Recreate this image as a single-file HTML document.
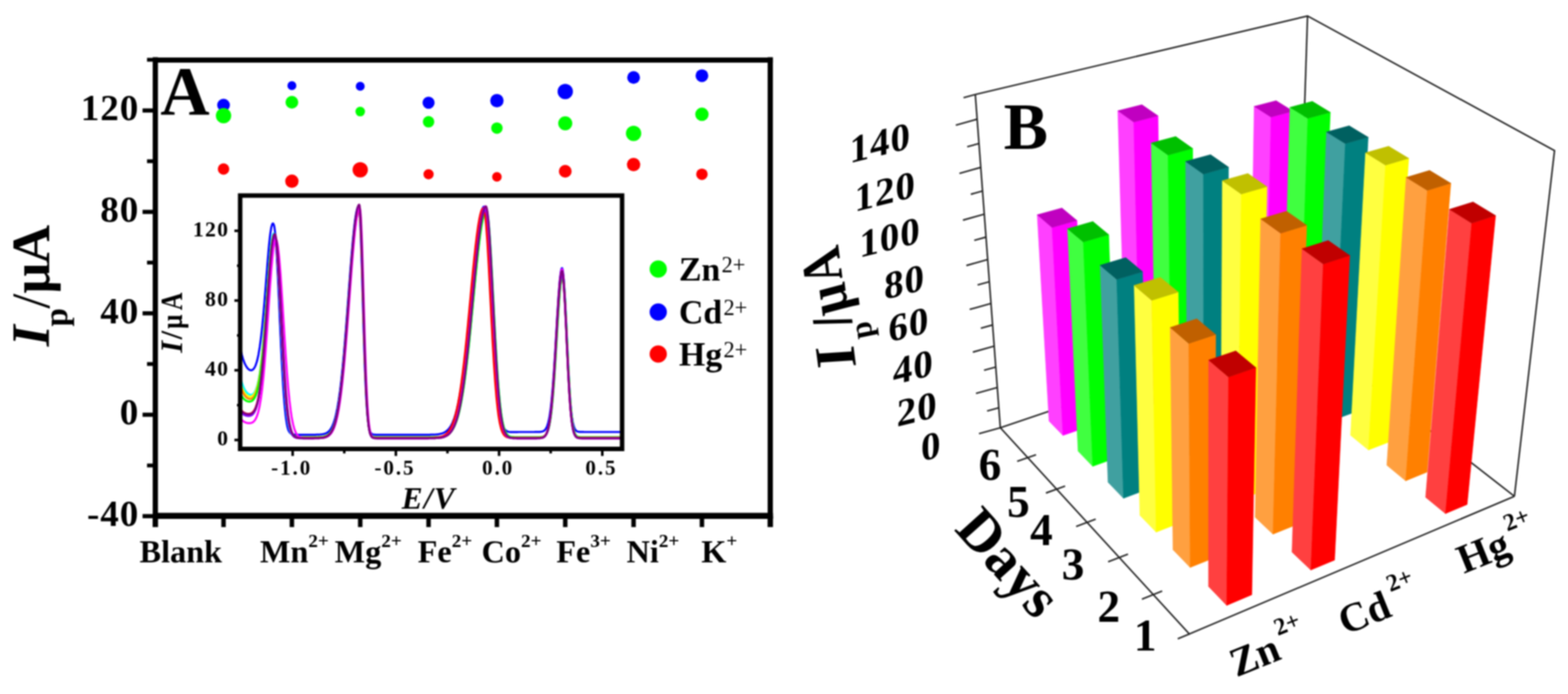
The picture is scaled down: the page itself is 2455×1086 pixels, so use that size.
<!DOCTYPE html>
<html><head><meta charset="utf-8"><style>html,body{margin:0;padding:0;background:#fff;overflow:hidden}svg{display:block}#w{filter:blur(1px)}</style></head><body><div id="w">
<svg width="2455" height="1086" viewBox="0 0 2455 1086">
<rect width="2455" height="1086" fill="#fff"/>
<path d="M239.2,94 H1210.2 M243.2,89.6 V812.3 M1206,89.6 V812.3 M239.2,807.3 H1210.2" fill="none" stroke="#000" stroke-width="8.2"/>
<line x1="239.2" y1="807.3" x2="1210.2" y2="807.3" stroke="#000" stroke-width="9.6"/>
<line x1="223.2" y1="807.7" x2="243.2" y2="807.7" stroke="#000" stroke-width="6.5"/>
<line x1="230.2" y1="728.4" x2="243.2" y2="728.4" stroke="#000" stroke-width="6"/>
<line x1="223.2" y1="649.0" x2="243.2" y2="649.0" stroke="#000" stroke-width="6.5"/>
<line x1="230.2" y1="569.6" x2="243.2" y2="569.6" stroke="#000" stroke-width="6"/>
<line x1="223.2" y1="490.3" x2="243.2" y2="490.3" stroke="#000" stroke-width="6.5"/>
<line x1="230.2" y1="410.9" x2="243.2" y2="410.9" stroke="#000" stroke-width="6"/>
<line x1="223.2" y1="331.6" x2="243.2" y2="331.6" stroke="#000" stroke-width="6.5"/>
<line x1="230.2" y1="252.3" x2="243.2" y2="252.3" stroke="#000" stroke-width="6"/>
<line x1="223.2" y1="172.9" x2="243.2" y2="172.9" stroke="#000" stroke-width="6.5"/>
<line x1="230.2" y1="93.5" x2="243.2" y2="93.5" stroke="#000" stroke-width="6"/>
<line x1="350" y1="807.3" x2="350" y2="824.8" stroke="#000" stroke-width="7"/>
<line x1="457" y1="807.3" x2="457" y2="824.8" stroke="#000" stroke-width="7"/>
<line x1="564" y1="807.3" x2="564" y2="824.8" stroke="#000" stroke-width="7"/>
<line x1="671" y1="807.3" x2="671" y2="824.8" stroke="#000" stroke-width="7"/>
<line x1="778" y1="807.3" x2="778" y2="824.8" stroke="#000" stroke-width="7"/>
<line x1="885" y1="807.3" x2="885" y2="824.8" stroke="#000" stroke-width="7"/>
<line x1="992" y1="807.3" x2="992" y2="824.8" stroke="#000" stroke-width="7"/>
<line x1="1099" y1="807.3" x2="1099" y2="824.8" stroke="#000" stroke-width="7"/>
<line x1="243.2" y1="807.3" x2="243.2" y2="824.8" stroke="#000" stroke-width="8.5"/>
<line x1="1206" y1="807.3" x2="1206" y2="824.8" stroke="#000" stroke-width="8.5"/>
<text x="218.1" y="188.1" text-anchor="end" font-size="58" letter-spacing="1.5" font-weight="bold" font-family="Liberation Serif, Times New Roman, serif">120</text>
<text x="218.1" y="346.8" text-anchor="end" font-size="58" letter-spacing="1.5" font-weight="bold" font-family="Liberation Serif, Times New Roman, serif">80</text>
<text x="218.1" y="505.5" text-anchor="end" font-size="58" letter-spacing="1.5" font-weight="bold" font-family="Liberation Serif, Times New Roman, serif">40</text>
<text x="218.1" y="664.2" text-anchor="end" font-size="58" letter-spacing="1.5" font-weight="bold" font-family="Liberation Serif, Times New Roman, serif">0</text>
<text x="218.1" y="822.9" text-anchor="end" font-size="58" letter-spacing="1.5" font-weight="bold" font-family="Liberation Serif, Times New Roman, serif">-40</text>
<text x="251" y="179.5" font-size="107" font-weight="bold" font-family="Liberation Serif, Times New Roman, serif">A</text>
<text transform="translate(77,542) rotate(-90)" font-size="85" font-weight="bold" font-family="Liberation Serif, Times New Roman, serif"><tspan font-style="italic">I</tspan><tspan font-size="52" dx="-2" dy="28">p</tspan><tspan dx="-1" dy="-28" font-weight="normal">/</tspan><tspan>μ</tspan><tspan dx="-2">A</tspan></text>
<text x="218.5" y="879.6" font-size="50.5" font-weight="bold" font-family="Liberation Serif, Times New Roman, serif">Blank</text>
<text x="407" y="879.6" font-size="50.5" font-weight="bold" font-family="Liberation Serif, Times New Roman, serif">Mn<tspan font-size="30" dy="-24">2+</tspan></text>
<text x="524" y="879.6" font-size="50.5" font-weight="bold" font-family="Liberation Serif, Times New Roman, serif">Mg<tspan font-size="30" dy="-24">2+</tspan></text>
<text x="654" y="879.6" font-size="50.5" font-weight="bold" font-family="Liberation Serif, Times New Roman, serif">Fe<tspan font-size="30" dy="-24">2+</tspan></text>
<text x="754" y="879.6" font-size="50.5" font-weight="bold" font-family="Liberation Serif, Times New Roman, serif">Co<tspan font-size="30" dy="-24">2+</tspan></text>
<text x="871" y="879.6" font-size="50.5" font-weight="bold" font-family="Liberation Serif, Times New Roman, serif">Fe<tspan font-size="30" dy="-24">3+</tspan></text>
<text x="981" y="879.6" font-size="50.5" font-weight="bold" font-family="Liberation Serif, Times New Roman, serif">Ni<tspan font-size="30" dy="-24">2+</tspan></text>
<text x="1098" y="879.6" font-size="50.5" font-weight="bold" font-family="Liberation Serif, Times New Roman, serif">K<tspan font-size="30" dy="-24">+</tspan></text>
<circle cx="350" cy="164.5" r="10" fill="#0000ff"/>
<circle cx="350" cy="181" r="12" fill="#00ff00"/>
<circle cx="350" cy="264.5" r="9" fill="#ff0000"/>
<circle cx="457" cy="134" r="7" fill="#0000ff"/>
<circle cx="457" cy="160" r="10" fill="#00ff00"/>
<circle cx="457" cy="283.6" r="10.5" fill="#ff0000"/>
<circle cx="564" cy="135" r="7" fill="#0000ff"/>
<circle cx="564" cy="174.6" r="7.5" fill="#00ff00"/>
<circle cx="564" cy="265.7" r="12" fill="#ff0000"/>
<circle cx="671" cy="160.8" r="9.5" fill="#0000ff"/>
<circle cx="671" cy="190.6" r="9" fill="#00ff00"/>
<circle cx="671" cy="272.7" r="8" fill="#ff0000"/>
<circle cx="778" cy="157.5" r="10.5" fill="#0000ff"/>
<circle cx="778" cy="200.4" r="9" fill="#00ff00"/>
<circle cx="778" cy="276.8" r="7.5" fill="#ff0000"/>
<circle cx="885" cy="143.3" r="12" fill="#0000ff"/>
<circle cx="885" cy="193" r="11" fill="#00ff00"/>
<circle cx="885" cy="268" r="10" fill="#ff0000"/>
<circle cx="992" cy="121.2" r="10" fill="#0000ff"/>
<circle cx="992" cy="208.7" r="12" fill="#00ff00"/>
<circle cx="992" cy="257.5" r="10.5" fill="#ff0000"/>
<circle cx="1099" cy="118.4" r="10" fill="#0000ff"/>
<circle cx="1099" cy="178.8" r="10.5" fill="#00ff00"/>
<circle cx="1099" cy="272.7" r="9" fill="#ff0000"/>
<circle cx="1030.6" cy="421" r="13.5" fill="#00ff00"/>
<text x="1063" y="439" font-size="53" font-weight="bold" font-family="Liberation Serif, Times New Roman, serif">Zn<tspan font-size="35" font-weight="normal" dx="2" dy="-13">2+</tspan></text>
<circle cx="1030.6" cy="488.3" r="13.5" fill="#0000ff"/>
<text x="1063" y="506.3" font-size="53" font-weight="bold" font-family="Liberation Serif, Times New Roman, serif">Cd<tspan font-size="35" font-weight="normal" dx="2" dy="-13">2+</tspan></text>
<circle cx="1030.6" cy="554" r="13.5" fill="#ff0000"/>
<text x="1063" y="572" font-size="53" font-weight="bold" font-family="Liberation Serif, Times New Roman, serif">Hg<tspan font-size="35" font-weight="normal" dx="2" dy="-13">2+</tspan></text>
<rect x="376" y="306" width="598" height="396.5" fill="#fff" stroke="none"/>
<polyline points="377.4,549.4 378.1,552.4 378.7,555.2 379.4,557.7 380.1,560.1 380.7,562.2 381.4,564.2 382.1,566.0 382.7,567.7 383.4,569.2 384.1,570.6 384.7,571.9 385.4,573.0 386.0,574.1 386.7,575.0 387.4,575.9 388.0,576.7 388.7,577.3 389.4,577.9 390.0,578.4 390.7,578.8 391.4,579.1 392.0,579.3 392.7,579.4 393.4,579.4 394.0,579.3 394.7,579.0 395.4,578.7 396.0,578.2 396.7,577.6 397.4,576.9 398.0,575.9 398.7,574.8 399.3,573.6 400.0,572.1 400.7,570.4 401.3,568.4 402.0,566.3 402.7,563.8 403.3,561.1 404.0,558.1 404.7,554.8 405.3,551.1 406.0,547.1 406.7,542.8 407.3,538.2 408.0,533.2 408.7,527.8 409.3,522.1 410.0,516.0 410.7,509.6 411.3,502.8 412.0,495.8 412.7,488.4 413.3,480.7 414.0,472.8 414.6,464.7 415.3,456.4 416.0,448.0 416.6,439.5 417.3,430.9 418.0,422.4 418.6,413.9 419.3,405.5 420.0,397.4 420.6,389.8 421.3,382.7 422.0,376.1 422.6,370.2 423.3,365.0 424.0,360.4 424.6,356.6 425.3,353.7 426.0,351.5 426.6,350.1 427.3,349.7 427.9,350.1 428.6,351.4 429.3,353.6 429.9,357.3 430.6,362.6 431.3,369.5 431.9,377.9 432.6,387.7 433.3,398.8 433.9,410.9 434.6,424.0 435.3,437.8 435.9,452.2 436.6,467.0 437.3,482.0 437.9,497.0 438.6,511.9 439.3,526.6 439.9,540.8 440.6,554.5 441.2,567.6 441.9,580.0 442.6,591.7 443.2,602.6 443.9,612.6 444.6,621.8 445.2,630.2 445.9,637.8 446.6,644.5 447.2,650.5 447.9,655.8 448.6,660.3 449.2,664.2 449.9,667.5 450.6,670.2 451.2,672.3 451.9,673.9 452.6,675.1 453.2,676.2 453.9,677.0 454.6,677.7 455.2,678.3 455.9,678.7 456.5,679.1 457.2,679.4 457.9,679.6 458.5,679.8 459.2,679.9 459.9,680.0 460.5,680.1 461.2,680.1 461.9,680.2 462.5,680.2 463.2,680.2 463.9,680.3 464.5,680.3 465.2,680.3 465.9,680.3 466.5,680.3 467.2,680.3 467.9,680.3 468.5,680.3 469.2,680.3 469.8,680.3 470.5,680.3 471.2,680.3 471.8,680.3 472.5,680.3 473.2,680.3 473.8,680.3 474.5,680.3 475.2,680.3 475.8,680.3 476.5,680.3 477.2,680.3 477.8,680.3 478.5,680.3 479.2,680.3 479.8,680.3 480.5,680.3 481.2,680.3 481.8,680.3 482.5,680.3 483.2,680.3 483.8,680.3 484.5,680.3 485.1,680.3 485.8,680.3 486.5,680.3 487.1,680.3 487.8,680.3 488.5,680.3 489.1,680.3 489.8,680.3 490.5,680.3 491.1,680.3 491.8,680.3 492.5,680.3 493.1,680.3 493.8,680.3 494.5,680.3 495.1,680.2 495.8,680.2 496.5,680.2 497.1,680.2 497.8,680.2 498.4,680.1 499.1,680.1 499.8,680.1 500.4,680.0 501.1,680.0 501.8,679.9 502.4,679.9 503.1,679.8 503.8,679.7 504.4,679.6 505.1,679.5 505.8,679.4 506.4,679.3 507.1,679.1 507.8,678.9 508.4,678.7 509.1,678.5 509.8,678.2 510.4,678.0 511.1,677.6 511.7,677.3 512.4,676.9 513.1,676.4 513.7,675.9 514.4,675.3 515.1,674.7 515.7,674.0 516.4,673.2 517.1,672.3 517.7,671.4 518.4,670.3 519.1,669.2 519.7,667.9 520.4,666.5 521.1,665.0 521.7,663.4 522.4,661.6 523.1,659.6 523.7,657.5 524.4,655.2 525.1,652.7 525.7,650.1 526.4,647.2 527.0,644.1 527.7,640.8 528.4,637.3 529.0,633.5 529.7,629.5 530.4,625.3 531.0,620.7 531.7,616.0 532.4,610.9 533.0,605.6 533.7,600.1 534.4,594.2 535.0,588.1 535.7,581.7 536.4,575.1 537.0,568.2 537.7,561.0 538.4,553.6 539.0,546.0 539.7,538.2 540.3,530.1 541.0,521.9 541.7,513.5 542.3,505.0 543.0,496.3 543.7,487.5 544.3,478.7 545.0,469.8 545.7,460.9 546.3,451.9 547.0,443.1 547.7,434.3 548.3,425.6 549.0,417.0 549.7,408.7 550.3,400.5 551.0,392.6 551.7,384.9 552.3,377.6 553.0,370.6 553.7,364.0 554.3,357.8 555.0,352.0 555.6,346.6 556.3,341.8 557.0,337.5 557.6,333.7 558.3,330.5 559.0,327.8 559.6,325.7 560.3,324.2 561.0,323.3 561.6,323.0 562.3,325.1 563.0,331.4 563.6,341.5 564.3,355.2 565.0,371.9 565.6,391.2 566.3,412.5 567.0,435.1 567.6,458.4 568.3,481.8 568.9,504.8 569.6,527.0 570.3,547.9 570.9,567.3 571.6,585.0 572.3,600.9 572.9,614.9 573.6,627.0 574.3,637.4 574.9,646.2 575.6,653.5 576.3,659.5 576.9,664.3 577.6,668.2 578.3,671.2 578.9,673.6 579.6,675.4 580.3,676.7 580.9,677.8 581.6,678.5 582.2,679.0 582.9,679.4 583.6,679.7 584.2,679.9 584.9,680.0 585.6,680.1 586.2,680.2 586.9,680.2 587.6,680.3 588.2,680.3 588.9,680.3 589.6,680.3 590.2,680.3 590.9,680.3 591.6,680.3 592.2,680.3 592.9,680.3 593.6,680.3 594.2,680.3 594.9,680.3 595.6,680.3 596.2,680.3 596.9,680.3 597.5,680.3 598.2,680.3 598.9,680.3 599.5,680.3 600.2,680.3 600.9,680.3 601.5,680.3 602.2,680.3 602.9,680.3 603.5,680.3 604.2,680.3 604.9,680.3 605.5,680.3 606.2,680.3 606.9,680.3 607.5,680.3 608.2,680.3 608.9,680.3 609.5,680.3 610.2,680.3 610.8,680.3 611.5,680.3 612.2,680.3 612.8,680.3 613.5,680.3 614.2,680.3 614.8,680.3 615.5,680.3 616.2,680.3 616.8,680.3 617.5,680.3 618.2,680.3 618.8,680.3 619.5,680.3 620.2,680.3 620.8,680.3 621.5,680.3 622.2,680.3 622.8,680.3 623.5,680.3 624.2,680.3 624.8,680.3 625.5,680.3 626.1,680.3 626.8,680.3 627.5,680.3 628.1,680.3 628.8,680.3 629.5,680.3 630.1,680.3 630.8,680.3 631.5,680.3 632.1,680.3 632.8,680.3 633.5,680.3 634.1,680.3 634.8,680.3 635.5,680.3 636.1,680.3 636.8,680.3 637.5,680.3 638.1,680.3 638.8,680.3 639.4,680.3 640.1,680.3 640.8,680.3 641.4,680.3 642.1,680.3 642.8,680.3 643.4,680.3 644.1,680.3 644.8,680.3 645.4,680.3 646.1,680.3 646.8,680.3 647.4,680.3 648.1,680.3 648.8,680.3 649.4,680.3 650.1,680.3 650.8,680.3 651.4,680.3 652.1,680.3 652.7,680.3 653.4,680.3 654.1,680.3 654.7,680.3 655.4,680.3 656.1,680.3 656.7,680.3 657.4,680.3 658.1,680.3 658.7,680.3 659.4,680.3 660.1,680.3 660.7,680.3 661.4,680.3 662.1,680.3 662.7,680.3 663.4,680.3 664.1,680.3 664.7,680.3 665.4,680.3 666.1,680.3 666.7,680.3 667.4,680.3 668.0,680.3 668.7,680.3 669.4,680.3 670.0,680.3 670.7,680.3 671.4,680.3 672.0,680.3 672.7,680.3 673.4,680.3 674.0,680.2 674.7,680.2 675.4,680.2 676.0,680.2 676.7,680.2 677.4,680.2 678.0,680.2 678.7,680.1 679.4,680.1 680.0,680.1 680.7,680.1 681.3,680.0 682.0,680.0 682.7,679.9 683.3,679.9 684.0,679.8 684.7,679.8 685.3,679.7 686.0,679.6 686.7,679.5 687.3,679.4 688.0,679.3 688.7,679.1 689.3,679.0 690.0,678.8 690.7,678.6 691.3,678.5 692.0,678.2 692.7,678.0 693.3,677.8 694.0,677.5 694.7,677.2 695.3,676.9 696.0,676.6 696.6,676.2 697.3,675.8 698.0,675.3 698.6,674.9 699.3,674.4 700.0,673.8 700.6,673.2 701.3,672.5 702.0,671.8 702.6,671.1 703.3,670.2 704.0,669.4 704.6,668.4 705.3,667.4 706.0,666.3 706.6,665.1 707.3,663.8 708.0,662.5 708.6,661.1 709.3,659.5 709.9,657.9 710.6,656.1 711.3,654.3 711.9,652.3 712.6,650.2 713.3,648.0 713.9,645.7 714.6,643.2 715.3,640.6 715.9,637.8 716.6,634.9 717.3,631.9 717.9,628.7 718.6,625.3 719.3,621.8 719.9,618.1 720.6,614.3 721.3,610.3 721.9,606.1 722.6,601.8 723.2,597.3 723.9,592.6 724.6,587.7 725.2,582.7 725.9,577.5 726.6,572.2 727.2,566.7 727.9,561.0 728.6,555.2 729.2,549.3 729.9,543.2 730.6,536.9 731.2,530.6 731.9,524.1 732.6,517.5 733.2,510.8 733.9,504.1 734.6,497.2 735.2,490.3 735.9,483.3 736.6,476.3 737.2,469.3 737.9,462.3 738.5,455.2 739.2,448.2 739.9,441.2 740.5,434.3 741.2,427.4 741.9,420.6 742.5,413.9 743.2,407.3 743.9,400.9 744.5,394.6 745.2,388.5 745.9,382.5 746.5,376.8 747.2,371.3 747.9,366.0 748.5,360.9 749.2,356.2 749.9,351.7 750.5,347.4 751.2,343.5 751.8,339.9 752.5,336.7 753.2,333.8 753.8,331.2 754.5,328.9 755.2,327.1 755.8,325.6 756.5,324.4 757.2,323.7 757.8,323.3 758.5,323.4 759.2,324.8 759.8,327.4 760.5,331.3 761.2,336.4 761.8,342.6 762.5,349.9 763.2,358.3 763.8,367.6 764.5,377.6 765.2,388.5 765.8,399.9 766.5,411.9 767.1,424.3 767.8,437.0 768.5,449.9 769.1,462.8 769.8,475.8 770.5,488.7 771.1,501.4 771.8,513.8 772.5,526.0 773.1,537.7 773.8,549.0 774.5,559.8 775.1,570.1 775.8,579.8 776.5,589.0 777.1,597.6 777.8,605.6 778.5,613.0 779.1,619.9 779.8,626.2 780.4,632.0 781.1,637.3 781.8,642.0 782.4,646.3 783.1,650.2 783.8,653.7 784.4,656.8 785.1,659.5 785.8,661.9 786.4,664.0 787.1,665.9 787.8,667.5 788.4,668.9 789.1,670.1 789.8,671.1 790.4,672.0 791.1,672.8 791.8,673.4 792.4,673.9 793.1,674.4 793.7,674.8 794.4,675.1 795.1,675.3 795.7,675.5 796.4,675.7 797.1,675.9 797.7,676.0 798.4,676.0 799.1,676.1 799.7,676.2 800.4,676.2 801.1,676.2 801.7,676.2 802.4,676.2 803.1,676.2 803.7,676.2 804.4,676.2 805.1,676.2 805.7,676.2 806.4,676.2 807.1,676.2 807.7,676.1 808.4,676.1 809.0,676.1 809.7,676.1 810.4,676.1 811.0,676.0 811.7,676.0 812.4,676.0 813.0,676.0 813.7,676.0 814.4,676.0 815.0,676.0 815.7,676.0 816.4,676.0 817.0,676.0 817.7,676.0 818.4,676.0 819.0,676.0 819.7,676.0 820.4,676.0 821.0,676.0 821.7,676.0 822.3,676.0 823.0,676.0 823.7,676.0 824.3,676.0 825.0,676.0 825.7,676.0 826.3,676.0 827.0,676.0 827.7,676.0 828.3,676.0 829.0,676.0 829.7,676.0 830.3,676.0 831.0,676.0 831.7,676.0 832.3,676.0 833.0,676.0 833.7,676.0 834.3,676.0 835.0,676.0 835.7,676.0 836.3,676.0 837.0,676.0 837.6,675.9 838.3,675.9 839.0,675.9 839.6,675.9 840.3,675.9 841.0,675.9 841.6,675.9 842.3,675.9 843.0,675.9 843.6,675.9 844.3,675.8 845.0,675.8 845.6,675.8 846.3,675.7 847.0,675.6 847.6,675.5 848.3,675.4 849.0,675.2 849.6,675.0 850.3,674.8 850.9,674.5 851.6,674.1 852.3,673.6 852.9,673.0 853.6,672.3 854.3,671.4 854.9,670.4 855.6,669.1 856.3,667.7 856.9,665.9 857.6,663.9 858.3,661.5 858.9,658.8 859.6,655.7 860.3,652.1 860.9,648.0 861.6,643.4 862.3,638.3 862.9,632.6 863.6,626.2 864.2,619.3 864.9,611.8 865.6,603.6 866.2,594.9 866.9,585.5 867.6,575.7 868.2,565.4 868.9,554.6 869.6,543.6 870.2,532.3 870.9,520.9 871.6,509.5 872.2,498.2 872.9,487.2 873.6,476.5 874.2,466.4 874.9,457.0 875.6,448.4 876.2,440.7 876.9,434.1 877.6,428.6 878.2,424.4 878.9,421.4 879.5,419.9 880.2,419.7 880.9,421.6 881.5,425.7 882.2,431.9 882.9,440.0 883.5,449.8 884.2,461.1 884.9,473.6 885.5,487.0 886.2,501.1 886.9,515.6 887.5,530.1 888.2,544.5 888.9,558.4 889.5,571.9 890.2,584.5 890.9,596.4 891.5,607.3 892.2,617.2 892.8,626.2 893.5,634.1 894.2,641.1 894.8,647.1 895.5,652.4 896.2,656.8 896.8,660.6 897.5,663.7 898.2,666.2 898.8,668.3 899.5,670.0 900.2,671.4 900.8,672.5 901.5,673.3 902.2,674.0 902.8,674.5 903.5,674.9 904.2,675.2 904.8,675.4 905.5,675.5 906.2,675.7 906.8,675.7 907.5,675.8 908.1,675.9 908.8,675.9 909.5,675.9 910.1,675.9 910.8,675.9 911.5,675.9 912.1,675.9 912.8,675.9 913.5,675.9 914.1,676.0 914.8,676.0 915.5,676.0 916.1,676.0 916.8,676.0 917.5,676.0 918.1,676.0 918.8,676.0 919.5,676.0 920.1,676.0 920.8,676.0 921.4,676.0 922.1,676.0 922.8,676.0 923.4,676.0 924.1,676.0 924.8,676.0 925.4,676.0 926.1,676.0 926.8,676.0 927.4,676.0 928.1,676.0 928.8,676.0 929.4,676.0 930.1,676.0 930.8,676.0 931.4,676.0 932.1,676.0 932.8,676.0 933.4,676.0 934.1,676.0 934.7,676.0 935.4,676.0 936.1,676.0 936.7,676.0 937.4,676.0 938.1,676.0 938.7,676.0 939.4,676.0 940.1,676.0 940.7,676.0 941.4,676.0 942.1,676.0 942.7,676.0 943.4,676.0 944.1,676.0 944.7,676.0 945.4,676.0 946.1,676.0 946.7,676.0 947.4,676.0 948.1,676.0 948.7,676.0 949.4,676.0 950.0,676.0 950.7,676.0 951.4,676.0 952.0,676.0 952.7,676.0 953.4,676.0 954.0,676.0 954.7,676.0 955.4,676.0 956.0,676.0 956.7,676.0 957.4,676.0 958.0,676.0 958.7,676.0 959.4,676.0 960.0,676.0 960.7,676.0 961.4,676.0 962.0,676.0 962.7,676.0 963.3,676.0 964.0,676.0 964.7,676.0 965.3,676.0 966.0,676.0 966.7,676.0 967.3,676.0 968.0,676.0 968.7,676.0 969.3,676.0 970.0,676.0 970.7,676.0 971.3,676.0 972.0,676.0 972.7,676.0 973.3,676.0 974.0,676.0 974.7,676.0 975.3,676.0" fill="none" stroke="#0000ff" stroke-width="3.2" stroke-linejoin="round"/>
<polyline points="377.4,594.4 378.1,596.8 378.7,598.9 379.4,600.9 380.1,602.8 380.7,604.5 381.4,606.0 382.1,607.5 382.7,608.8 383.4,610.0 384.1,611.1 384.7,612.1 385.4,613.0 386.0,613.8 386.7,614.5 387.4,615.2 388.0,615.8 388.7,616.3 389.4,616.8 390.0,617.1 390.7,617.4 391.4,617.6 392.0,617.8 392.7,617.8 393.4,617.8 394.0,617.7 394.7,617.5 395.4,617.1 396.0,616.7 396.7,616.1 397.4,615.4 398.0,614.6 398.7,613.6 399.3,612.4 400.0,611.0 400.7,609.4 401.3,607.6 402.0,605.6 402.7,603.3 403.3,600.8 404.0,598.0 404.7,594.8 405.3,591.4 406.0,587.6 406.7,583.5 407.3,579.0 408.0,574.1 408.7,568.9 409.3,563.3 410.0,557.3 410.7,550.9 411.3,544.2 412.0,537.1 412.7,529.7 413.3,521.9 414.0,513.8 414.6,505.4 415.3,496.8 416.0,488.0 416.6,479.0 417.3,469.9 418.0,460.7 418.6,451.5 419.3,442.4 420.0,433.4 420.6,424.7 421.3,416.4 422.0,408.5 422.6,401.1 423.3,394.3 424.0,388.1 424.6,382.5 425.3,377.6 426.0,373.5 426.6,370.1 427.3,367.6 427.9,366.0 428.6,365.2 429.3,365.3 429.9,366.3 430.6,368.4 431.3,371.8 431.9,376.7 432.6,382.8 433.3,390.3 433.9,398.9 434.6,408.6 435.3,419.2 435.9,430.6 436.6,442.7 437.3,455.4 437.9,468.5 438.6,481.8 439.3,495.3 439.9,508.8 440.6,522.2 441.2,535.3 441.9,548.1 442.6,560.4 443.2,572.3 443.9,583.6 444.6,594.3 445.2,604.3 445.9,613.6 446.6,622.2 447.2,630.1 447.9,637.3 448.6,643.7 449.2,649.5 449.9,654.6 450.6,659.1 451.2,662.9 451.9,666.2 452.6,669.0 453.2,671.4 453.9,673.6 454.6,675.4 455.2,676.9 455.9,678.2 456.5,679.3 457.2,680.3 457.9,681.0 458.5,681.7 459.2,682.2 459.9,682.7 460.5,683.0 461.2,683.3 461.9,683.5 462.5,683.7 463.2,683.9 463.9,684.0 464.5,684.1 465.2,684.2 465.9,684.2 466.5,684.3 467.2,684.3 467.9,684.3 468.5,684.3 469.2,684.4 469.8,684.4 470.5,684.4 471.2,684.4 471.8,684.4 472.5,684.4 473.2,684.4 473.8,684.4 474.5,684.4 475.2,684.4 475.8,684.4 476.5,684.4 477.2,684.4 477.8,684.4 478.5,684.4 479.2,684.4 479.8,684.4 480.5,684.4 481.2,684.4 481.8,684.4 482.5,684.4 483.2,684.4 483.8,684.4 484.5,684.4 485.1,684.4 485.8,684.4 486.5,684.4 487.1,684.4 487.8,684.4 488.5,684.4 489.1,684.4 489.8,684.4 490.5,684.4 491.1,684.4 491.8,684.4 492.5,684.4 493.1,684.4 493.8,684.4 494.5,684.4 495.1,684.3 495.8,684.3 496.5,684.3 497.1,684.3 497.8,684.3 498.4,684.3 499.1,684.2 499.8,684.2 500.4,684.2 501.1,684.1 501.8,684.1 502.4,684.0 503.1,684.0 503.8,683.9 504.4,683.8 505.1,683.7 505.8,683.6 506.4,683.5 507.1,683.3 507.8,683.2 508.4,683.0 509.1,682.8 509.8,682.5 510.4,682.3 511.1,682.0 511.7,681.6 512.4,681.2 513.1,680.8 513.7,680.3 514.4,679.8 515.1,679.2 515.7,678.6 516.4,677.8 517.1,677.0 517.7,676.1 518.4,675.2 519.1,674.1 519.7,672.9 520.4,671.6 521.1,670.2 521.7,668.6 522.4,666.9 523.1,665.1 523.7,663.1 524.4,660.9 525.1,658.5 525.7,656.0 526.4,653.3 527.0,650.3 527.7,647.2 528.4,643.8 529.0,640.2 529.7,636.4 530.4,632.3 531.0,627.9 531.7,623.3 532.4,618.5 533.0,613.3 533.7,607.9 534.4,602.3 535.0,596.3 535.7,590.1 536.4,583.6 537.0,576.9 537.7,569.9 538.4,562.7 539.0,555.2 539.7,547.5 540.3,539.5 541.0,531.4 541.7,523.1 542.3,514.6 543.0,506.0 543.7,497.3 544.3,488.5 545.0,479.6 545.7,470.6 546.3,461.7 547.0,452.7 547.7,443.9 548.3,435.1 549.0,426.4 549.7,417.8 550.3,409.5 551.0,401.3 551.7,393.5 552.3,385.9 553.0,378.6 553.7,371.7 554.3,365.1 555.0,359.0 555.6,353.3 556.3,348.1 557.0,343.4 557.6,339.2 558.3,335.5 559.0,332.4 559.6,329.9 560.3,328.0 561.0,326.6 561.6,325.9 562.3,325.9 563.0,329.2 563.6,336.5 564.3,347.7 565.0,362.3 565.6,379.9 566.3,399.9 567.0,421.6 567.6,444.5 568.3,468.0 568.9,491.5 569.6,514.4 570.3,536.3 570.9,557.0 571.6,576.0 572.3,593.2 572.9,608.7 573.6,622.2 574.3,633.9 574.9,643.9 575.6,652.3 576.3,659.2 576.9,664.9 577.6,669.5 578.3,673.1 578.9,676.0 579.6,678.2 580.3,679.9 580.9,681.1 581.6,682.1 582.2,682.8 582.9,683.3 583.6,683.6 584.2,683.9 584.9,684.0 585.6,684.2 586.2,684.2 586.9,684.3 587.6,684.3 588.2,684.4 588.9,684.4 589.6,684.4 590.2,684.4 590.9,684.4 591.6,684.4 592.2,684.4 592.9,684.4 593.6,684.4 594.2,684.4 594.9,684.4 595.6,684.4 596.2,684.4 596.9,684.4 597.5,684.4 598.2,684.4 598.9,684.4 599.5,684.4 600.2,684.4 600.9,684.4 601.5,684.4 602.2,684.4 602.9,684.4 603.5,684.4 604.2,684.4 604.9,684.4 605.5,684.4 606.2,684.4 606.9,684.4 607.5,684.4 608.2,684.4 608.9,684.4 609.5,684.4 610.2,684.4 610.8,684.4 611.5,684.4 612.2,684.4 612.8,684.4 613.5,684.4 614.2,684.4 614.8,684.4 615.5,684.4 616.2,684.4 616.8,684.4 617.5,684.4 618.2,684.4 618.8,684.4 619.5,684.4 620.2,684.4 620.8,684.4 621.5,684.4 622.2,684.4 622.8,684.4 623.5,684.4 624.2,684.4 624.8,684.4 625.5,684.4 626.1,684.4 626.8,684.4 627.5,684.4 628.1,684.4 628.8,684.4 629.5,684.4 630.1,684.4 630.8,684.4 631.5,684.4 632.1,684.4 632.8,684.4 633.5,684.4 634.1,684.4 634.8,684.4 635.5,684.4 636.1,684.4 636.8,684.4 637.5,684.4 638.1,684.4 638.8,684.4 639.4,684.4 640.1,684.4 640.8,684.4 641.4,684.4 642.1,684.4 642.8,684.4 643.4,684.4 644.1,684.4 644.8,684.4 645.4,684.4 646.1,684.4 646.8,684.4 647.4,684.4 648.1,684.4 648.8,684.4 649.4,684.4 650.1,684.4 650.8,684.4 651.4,684.4 652.1,684.4 652.7,684.4 653.4,684.4 654.1,684.4 654.7,684.4 655.4,684.4 656.1,684.4 656.7,684.4 657.4,684.4 658.1,684.4 658.7,684.4 659.4,684.4 660.1,684.4 660.7,684.4 661.4,684.4 662.1,684.4 662.7,684.4 663.4,684.4 664.1,684.4 664.7,684.4 665.4,684.4 666.1,684.4 666.7,684.4 667.4,684.4 668.0,684.4 668.7,684.4 669.4,684.4 670.0,684.4 670.7,684.4 671.4,684.4 672.0,684.4 672.7,684.4 673.4,684.4 674.0,684.4 674.7,684.4 675.4,684.4 676.0,684.4 676.7,684.3 677.4,684.3 678.0,684.3 678.7,684.3 679.4,684.3 680.0,684.3 680.7,684.3 681.3,684.3 682.0,684.2 682.7,684.2 683.3,684.2 684.0,684.1 684.7,684.1 685.3,684.1 686.0,684.0 686.7,684.0 687.3,683.9 688.0,683.9 688.7,683.8 689.3,683.7 690.0,683.6 690.7,683.6 691.3,683.4 692.0,683.3 692.7,683.2 693.3,683.1 694.0,682.9 694.7,682.7 695.3,682.6 696.0,682.4 696.6,682.1 697.3,681.9 698.0,681.6 698.6,681.3 699.3,681.0 700.0,680.6 700.6,680.2 701.3,679.8 702.0,679.4 702.6,678.9 703.3,678.3 704.0,677.7 704.6,677.1 705.3,676.4 706.0,675.6 706.6,674.8 707.3,673.9 708.0,673.0 708.6,672.0 709.3,670.9 709.9,669.7 710.6,668.5 711.3,667.1 711.9,665.7 712.6,664.2 713.3,662.5 713.9,660.8 714.6,658.9 715.3,657.0 715.9,654.9 716.6,652.6 717.3,650.3 717.9,647.8 718.6,645.2 719.3,642.4 719.9,639.5 720.6,636.5 721.3,633.3 721.9,629.9 722.6,626.4 723.2,622.7 723.9,618.8 724.6,614.8 725.2,610.6 725.9,606.2 726.6,601.7 727.2,597.0 727.9,592.1 728.6,587.1 729.2,581.9 729.9,576.5 730.6,571.0 731.2,565.3 731.9,559.5 732.6,553.5 733.2,547.4 733.9,541.2 734.6,534.8 735.2,528.3 735.9,521.7 736.6,515.0 737.2,508.2 737.9,501.3 738.5,494.4 739.2,487.4 739.9,480.4 740.5,473.4 741.2,466.3 741.9,459.3 742.5,452.3 743.2,445.3 743.9,438.3 744.5,431.5 745.2,424.7 745.9,418.0 746.5,411.4 747.2,405.0 747.9,398.7 748.5,392.6 749.2,386.7 749.9,381.0 750.5,375.5 751.2,370.3 751.8,365.3 752.5,360.5 753.2,356.1 753.8,351.9 754.5,348.1 755.2,344.5 755.8,341.3 756.5,338.5 757.2,335.9 757.8,333.8 758.5,332.0 759.2,330.5 759.8,329.5 760.5,328.8 761.2,328.5 761.8,328.8 762.5,330.3 763.2,333.2 763.8,337.3 764.5,342.6 765.2,349.0 765.8,356.5 766.5,365.1 767.1,374.5 767.8,384.8 768.5,395.8 769.1,407.4 769.8,419.5 770.5,432.0 771.1,444.8 771.8,457.7 772.5,470.8 773.1,483.8 773.8,496.8 774.5,509.5 775.1,522.0 775.8,534.1 776.5,545.9 777.1,557.1 777.8,567.9 778.5,578.2 779.1,587.9 779.8,597.1 780.4,605.6 781.1,613.6 781.8,621.0 782.4,627.9 783.1,634.2 783.8,639.9 784.4,645.2 785.1,649.9 785.8,654.2 786.4,658.0 787.1,661.5 787.8,664.6 788.4,667.3 789.1,669.7 789.8,671.8 790.4,673.6 791.1,675.2 791.8,676.6 792.4,677.8 793.1,678.9 793.7,679.8 794.4,680.5 795.1,681.2 795.7,681.7 796.4,682.2 797.1,682.6 797.7,682.9 798.4,683.2 799.1,683.4 799.7,683.6 800.4,683.8 801.1,683.9 801.7,684.0 802.4,684.1 803.1,684.1 803.7,684.2 804.4,684.2 805.1,684.3 805.7,684.3 806.4,684.3 807.1,684.3 807.7,684.4 808.4,684.4 809.0,684.4 809.7,684.4 810.4,684.4 811.0,684.4 811.7,684.4 812.4,684.4 813.0,684.4 813.7,684.4 814.4,684.4 815.0,684.4 815.7,684.4 816.4,684.4 817.0,684.4 817.7,684.4 818.4,684.4 819.0,684.4 819.7,684.4 820.4,684.4 821.0,684.4 821.7,684.4 822.3,684.4 823.0,684.4 823.7,684.4 824.3,684.4 825.0,684.4 825.7,684.4 826.3,684.4 827.0,684.4 827.7,684.4 828.3,684.4 829.0,684.4 829.7,684.4 830.3,684.4 831.0,684.4 831.7,684.4 832.3,684.4 833.0,684.4 833.7,684.4 834.3,684.4 835.0,684.4 835.7,684.4 836.3,684.4 837.0,684.4 837.6,684.4 838.3,684.4 839.0,684.4 839.6,684.4 840.3,684.4 841.0,684.4 841.6,684.4 842.3,684.4 843.0,684.4 843.6,684.3 844.3,684.3 845.0,684.3 845.6,684.3 846.3,684.2 847.0,684.2 847.6,684.1 848.3,684.0 849.0,683.9 849.6,683.7 850.3,683.5 850.9,683.2 851.6,682.9 852.3,682.5 852.9,682.0 853.6,681.4 854.3,680.7 854.9,679.9 855.6,678.8 856.3,677.6 856.9,676.1 857.6,674.4 858.3,672.4 858.9,670.0 859.6,667.3 860.3,664.1 860.9,660.5 861.6,656.5 862.3,651.9 862.9,646.8 863.6,641.1 864.2,634.8 864.9,627.9 865.6,620.4 866.2,612.2 866.9,603.5 867.6,594.2 868.2,584.4 868.9,574.1 869.6,563.4 870.2,552.4 870.9,541.2 871.6,529.9 872.2,518.5 872.9,507.3 873.6,496.3 874.2,485.8 874.9,475.7 875.6,466.4 876.2,457.8 876.9,450.2 877.6,443.7 878.2,438.2 878.9,434.1 879.5,431.2 880.2,429.7 880.9,429.6 881.5,431.5 882.2,435.6 882.9,441.8 883.5,449.9 884.2,459.7 884.9,471.0 885.5,483.5 886.2,496.9 886.9,510.9 887.5,525.3 888.2,539.7 888.9,554.0 889.5,567.9 890.2,581.2 890.9,593.8 891.5,605.6 892.2,616.4 892.8,626.3 893.5,635.1 894.2,643.0 894.8,649.9 895.5,655.9 896.2,661.1 896.8,665.5 897.5,669.2 898.2,672.3 898.8,674.8 899.5,676.9 900.2,678.6 900.8,679.9 901.5,681.0 902.2,681.8 902.8,682.5 903.5,683.0 904.2,683.3 904.8,683.6 905.5,683.8 906.2,684.0 906.8,684.1 907.5,684.2 908.1,684.3 908.8,684.3 909.5,684.3 910.1,684.4 910.8,684.4 911.5,684.4 912.1,684.4 912.8,684.4 913.5,684.4 914.1,684.4 914.8,684.4 915.5,684.4 916.1,684.4 916.8,684.4 917.5,684.4 918.1,684.4 918.8,684.4 919.5,684.4 920.1,684.4 920.8,684.4 921.4,684.4 922.1,684.4 922.8,684.4 923.4,684.4 924.1,684.4 924.8,684.4 925.4,684.4 926.1,684.4 926.8,684.4 927.4,684.4 928.1,684.4 928.8,684.4 929.4,684.4 930.1,684.4 930.8,684.4 931.4,684.4 932.1,684.4 932.8,684.4 933.4,684.4 934.1,684.4 934.7,684.4 935.4,684.4 936.1,684.4 936.7,684.4 937.4,684.4 938.1,684.4 938.7,684.4 939.4,684.4 940.1,684.4 940.7,684.4 941.4,684.4 942.1,684.4 942.7,684.4 943.4,684.4 944.1,684.4 944.7,684.4 945.4,684.4 946.1,684.4 946.7,684.4 947.4,684.4 948.1,684.4 948.7,684.4 949.4,684.4 950.0,684.4 950.7,684.4 951.4,684.4 952.0,684.4 952.7,684.4 953.4,684.4 954.0,684.4 954.7,684.4 955.4,684.4 956.0,684.4 956.7,684.4 957.4,684.4 958.0,684.4 958.7,684.4 959.4,684.4 960.0,684.4 960.7,684.4 961.4,684.4 962.0,684.4 962.7,684.4 963.3,684.4 964.0,684.4 964.7,684.4 965.3,684.4 966.0,684.4 966.7,684.4 967.3,684.4 968.0,684.4 968.7,684.4 969.3,684.4 970.0,684.4 970.7,684.4 971.3,684.4 972.0,684.4 972.7,684.4 973.3,684.4 974.0,684.4 974.7,684.4 975.3,684.4" fill="none" stroke="#00ffff" stroke-width="3.2" stroke-linejoin="round"/>
<polyline points="377.4,602.6 378.1,604.7 378.7,606.6 379.4,608.3 380.1,609.9 380.7,611.3 381.4,612.6 382.1,613.7 382.7,614.7 383.4,615.6 384.1,616.5 384.7,617.2 385.4,617.8 386.0,618.4 386.7,618.9 387.4,619.3 388.0,619.7 388.7,620.0 389.4,620.2 390.0,620.4 390.7,620.5 391.4,620.6 392.0,620.6 392.7,620.5 393.4,620.3 394.0,620.1 394.7,619.8 395.4,619.3 396.0,618.8 396.7,618.2 397.4,617.5 398.0,616.6 398.7,615.6 399.3,614.4 400.0,613.0 400.7,611.5 401.3,609.7 402.0,607.7 402.7,605.5 403.3,603.1 404.0,600.3 404.7,597.3 405.3,594.0 406.0,590.4 406.7,586.4 407.3,582.1 408.0,577.4 408.7,572.3 409.3,566.9 410.0,561.1 410.7,555.0 411.3,548.4 412.0,541.5 412.7,534.3 413.3,526.7 414.0,518.8 414.6,510.6 415.3,502.1 416.0,493.4 416.6,484.6 417.3,475.6 418.0,466.5 418.6,457.3 419.3,448.2 420.0,439.2 420.6,430.5 421.3,422.1 422.0,414.1 422.6,406.6 423.3,399.6 424.0,393.2 424.6,387.4 425.3,382.2 426.0,377.8 426.6,374.2 427.3,371.3 427.9,369.3 428.6,368.1 429.3,367.8 429.9,368.4 430.6,369.9 431.3,372.7 431.9,376.7 432.6,382.0 433.3,388.5 433.9,396.1 434.6,404.8 435.3,414.4 435.9,424.9 436.6,436.1 437.3,447.9 437.9,460.2 438.6,472.8 439.3,485.7 439.9,498.7 440.6,511.7 441.2,524.5 441.9,537.1 442.6,549.4 443.2,561.3 443.9,572.8 444.6,583.7 445.2,594.0 445.9,603.7 446.6,612.8 447.2,621.1 447.9,628.8 448.6,635.9 449.2,642.2 449.9,647.9 450.6,652.9 451.2,657.3 451.9,661.1 452.6,664.5 453.2,667.4 453.9,670.0 454.6,672.2 455.2,674.1 455.9,675.8 456.5,677.3 457.2,678.5 457.9,679.5 458.5,680.4 459.2,681.1 459.9,681.7 460.5,682.2 461.2,682.7 461.9,683.0 462.5,683.3 463.2,683.5 463.9,683.7 464.5,683.9 465.2,684.0 465.9,684.1 466.5,684.1 467.2,684.2 467.9,684.3 468.5,684.3 469.2,684.3 469.8,684.3 470.5,684.4 471.2,684.4 471.8,684.4 472.5,684.4 473.2,684.4 473.8,684.4 474.5,684.4 475.2,684.4 475.8,684.4 476.5,684.4 477.2,684.4 477.8,684.4 478.5,684.4 479.2,684.4 479.8,684.4 480.5,684.4 481.2,684.4 481.8,684.4 482.5,684.4 483.2,684.4 483.8,684.4 484.5,684.4 485.1,684.4 485.8,684.4 486.5,684.4 487.1,684.4 487.8,684.4 488.5,684.4 489.1,684.4 489.8,684.4 490.5,684.4 491.1,684.4 491.8,684.4 492.5,684.4 493.1,684.4 493.8,684.4 494.5,684.4 495.1,684.3 495.8,684.3 496.5,684.3 497.1,684.3 497.8,684.3 498.4,684.3 499.1,684.2 499.8,684.2 500.4,684.2 501.1,684.1 501.8,684.1 502.4,684.0 503.1,684.0 503.8,683.9 504.4,683.8 505.1,683.7 505.8,683.6 506.4,683.5 507.1,683.4 507.8,683.2 508.4,683.0 509.1,682.8 509.8,682.6 510.4,682.3 511.1,682.0 511.7,681.7 512.4,681.4 513.1,680.9 513.7,680.5 514.4,680.0 515.1,679.4 515.7,678.8 516.4,678.1 517.1,677.3 517.7,676.4 518.4,675.5 519.1,674.4 519.7,673.3 520.4,672.0 521.1,670.6 521.7,669.1 522.4,667.5 523.1,665.7 523.7,663.7 524.4,661.6 525.1,659.3 525.7,656.8 526.4,654.2 527.0,651.3 527.7,648.2 528.4,645.0 529.0,641.4 529.7,637.7 530.4,633.7 531.0,629.4 531.7,624.9 532.4,620.2 533.0,615.1 533.7,609.8 534.4,604.3 535.0,598.5 535.7,592.4 536.4,586.0 537.0,579.4 537.7,572.5 538.4,565.4 539.0,558.0 539.7,550.4 540.3,542.6 541.0,534.6 541.7,526.4 542.3,518.0 543.0,509.5 543.7,500.8 544.3,492.1 545.0,483.3 545.7,474.4 546.3,465.5 547.0,456.7 547.7,447.8 548.3,439.1 549.0,430.4 549.7,421.9 550.3,413.6 551.0,405.4 551.7,397.5 552.3,389.9 553.0,382.6 553.7,375.7 554.3,369.1 555.0,362.9 555.6,357.2 556.3,351.9 557.0,347.1 557.6,342.8 558.3,339.0 559.0,335.8 559.6,333.2 560.3,331.1 561.0,329.6 561.6,328.7 562.3,328.5 563.0,330.7 563.6,337.0 564.3,347.2 565.0,360.9 565.6,377.7 566.3,397.0 567.0,418.2 567.6,440.8 568.3,464.0 568.9,487.3 569.6,510.2 570.3,532.3 570.9,553.1 571.6,572.4 572.3,589.9 572.9,605.7 573.6,619.6 574.3,631.6 574.9,641.9 575.6,650.6 576.3,657.9 576.9,663.8 577.6,668.6 578.3,672.4 578.9,675.4 579.6,677.7 580.3,679.5 580.9,680.9 581.6,681.9 582.2,682.6 582.9,683.2 583.6,683.5 584.2,683.8 584.9,684.0 585.6,684.1 586.2,684.2 586.9,684.3 587.6,684.3 588.2,684.4 588.9,684.4 589.6,684.4 590.2,684.4 590.9,684.4 591.6,684.4 592.2,684.4 592.9,684.4 593.6,684.4 594.2,684.4 594.9,684.4 595.6,684.4 596.2,684.4 596.9,684.4 597.5,684.4 598.2,684.4 598.9,684.4 599.5,684.4 600.2,684.4 600.9,684.4 601.5,684.4 602.2,684.4 602.9,684.4 603.5,684.4 604.2,684.4 604.9,684.4 605.5,684.4 606.2,684.4 606.9,684.4 607.5,684.4 608.2,684.4 608.9,684.4 609.5,684.4 610.2,684.4 610.8,684.4 611.5,684.4 612.2,684.4 612.8,684.4 613.5,684.4 614.2,684.4 614.8,684.4 615.5,684.4 616.2,684.4 616.8,684.4 617.5,684.4 618.2,684.4 618.8,684.4 619.5,684.4 620.2,684.4 620.8,684.4 621.5,684.4 622.2,684.4 622.8,684.4 623.5,684.4 624.2,684.4 624.8,684.4 625.5,684.4 626.1,684.4 626.8,684.4 627.5,684.4 628.1,684.4 628.8,684.4 629.5,684.4 630.1,684.4 630.8,684.4 631.5,684.4 632.1,684.4 632.8,684.4 633.5,684.4 634.1,684.4 634.8,684.4 635.5,684.4 636.1,684.4 636.8,684.4 637.5,684.4 638.1,684.4 638.8,684.4 639.4,684.4 640.1,684.4 640.8,684.4 641.4,684.4 642.1,684.4 642.8,684.4 643.4,684.4 644.1,684.4 644.8,684.4 645.4,684.4 646.1,684.4 646.8,684.4 647.4,684.4 648.1,684.4 648.8,684.4 649.4,684.4 650.1,684.4 650.8,684.4 651.4,684.4 652.1,684.4 652.7,684.4 653.4,684.4 654.1,684.4 654.7,684.4 655.4,684.4 656.1,684.4 656.7,684.4 657.4,684.4 658.1,684.4 658.7,684.4 659.4,684.4 660.1,684.4 660.7,684.4 661.4,684.4 662.1,684.4 662.7,684.4 663.4,684.4 664.1,684.4 664.7,684.4 665.4,684.4 666.1,684.4 666.7,684.4 667.4,684.4 668.0,684.4 668.7,684.4 669.4,684.4 670.0,684.4 670.7,684.4 671.4,684.4 672.0,684.4 672.7,684.4 673.4,684.4 674.0,684.4 674.7,684.4 675.4,684.3 676.0,684.3 676.7,684.3 677.4,684.3 678.0,684.3 678.7,684.3 679.4,684.3 680.0,684.3 680.7,684.2 681.3,684.2 682.0,684.2 682.7,684.2 683.3,684.1 684.0,684.1 684.7,684.0 685.3,684.0 686.0,683.9 686.7,683.9 687.3,683.8 688.0,683.7 688.7,683.7 689.3,683.6 690.0,683.5 690.7,683.4 691.3,683.2 692.0,683.1 692.7,682.9 693.3,682.8 694.0,682.6 694.7,682.4 695.3,682.2 696.0,681.9 696.6,681.6 697.3,681.4 698.0,681.0 698.6,680.7 699.3,680.3 700.0,679.9 700.6,679.4 701.3,678.9 702.0,678.4 702.6,677.8 703.3,677.2 704.0,676.5 704.6,675.7 705.3,674.9 706.0,674.1 706.6,673.1 707.3,672.1 708.0,671.1 708.6,669.9 709.3,668.7 709.9,667.3 710.6,665.9 711.3,664.4 711.9,662.8 712.6,661.1 713.3,659.2 713.9,657.3 714.6,655.2 715.3,653.0 715.9,650.7 716.6,648.2 717.3,645.7 717.9,642.9 718.6,640.0 719.3,637.0 719.9,633.8 720.6,630.5 721.3,627.0 721.9,623.3 722.6,619.5 723.2,615.5 723.9,611.4 724.6,607.1 725.2,602.6 725.9,597.9 726.6,593.1 727.2,588.1 727.9,583.0 728.6,577.7 729.2,572.2 729.9,566.6 730.6,560.8 731.2,554.9 731.9,548.8 732.6,542.6 733.2,536.3 733.9,529.8 734.6,523.3 735.2,516.7 735.9,509.9 736.6,503.1 737.2,496.3 737.9,489.3 738.5,482.4 739.2,475.4 739.9,468.4 740.5,461.4 741.2,454.4 741.9,447.5 742.5,440.6 743.2,433.8 743.9,427.0 744.5,420.4 745.2,413.9 745.9,407.5 746.5,401.3 747.2,395.2 747.9,389.3 748.5,383.7 749.2,378.2 749.9,373.0 750.5,368.0 751.2,363.3 751.8,358.8 752.5,354.7 753.2,350.9 753.8,347.3 754.5,344.1 755.2,341.3 755.8,338.7 756.5,336.6 757.2,334.8 757.8,333.3 758.5,332.2 759.2,331.5 759.8,331.2 760.5,331.5 761.2,332.9 761.8,335.7 762.5,339.7 763.2,344.9 763.8,351.2 764.5,358.6 765.2,367.0 765.8,376.3 766.5,386.5 767.1,397.3 767.8,408.8 768.5,420.8 769.1,433.2 769.8,445.9 770.5,458.7 771.1,471.7 771.8,484.6 772.5,497.5 773.1,510.1 773.8,522.5 774.5,534.6 775.1,546.3 775.8,557.5 776.5,568.2 777.1,578.5 777.8,588.1 778.5,597.2 779.1,605.8 779.8,613.7 780.4,621.1 781.1,628.0 781.8,634.2 782.4,640.0 783.1,645.2 783.8,649.9 784.4,654.2 785.1,658.0 785.8,661.5 786.4,664.5 787.1,667.3 787.8,669.7 788.4,671.8 789.1,673.6 789.8,675.2 790.4,676.6 791.1,677.8 791.8,678.9 792.4,679.8 793.1,680.5 793.7,681.2 794.4,681.7 795.1,682.2 795.7,682.6 796.4,682.9 797.1,683.2 797.7,683.4 798.4,683.6 799.1,683.8 799.7,683.9 800.4,684.0 801.1,684.1 801.7,684.1 802.4,684.2 803.1,684.2 803.7,684.3 804.4,684.3 805.1,684.3 805.7,684.3 806.4,684.4 807.1,684.4 807.7,684.4 808.4,684.4 809.0,684.4 809.7,684.4 810.4,684.4 811.0,684.4 811.7,684.4 812.4,684.4 813.0,684.4 813.7,684.4 814.4,684.4 815.0,684.4 815.7,684.4 816.4,684.4 817.0,684.4 817.7,684.4 818.4,684.4 819.0,684.4 819.7,684.4 820.4,684.4 821.0,684.4 821.7,684.4 822.3,684.4 823.0,684.4 823.7,684.4 824.3,684.4 825.0,684.4 825.7,684.4 826.3,684.4 827.0,684.4 827.7,684.4 828.3,684.4 829.0,684.4 829.7,684.4 830.3,684.4 831.0,684.4 831.7,684.4 832.3,684.4 833.0,684.4 833.7,684.4 834.3,684.4 835.0,684.4 835.7,684.4 836.3,684.4 837.0,684.4 837.6,684.4 838.3,684.4 839.0,684.4 839.6,684.4 840.3,684.4 841.0,684.4 841.6,684.4 842.3,684.4 843.0,684.4 843.6,684.3 844.3,684.3 845.0,684.3 845.6,684.2 846.3,684.2 847.0,684.1 847.6,684.0 848.3,683.9 849.0,683.8 849.6,683.6 850.3,683.4 850.9,683.1 851.6,682.7 852.3,682.3 852.9,681.8 853.6,681.2 854.3,680.4 854.9,679.4 855.6,678.3 856.3,677.0 856.9,675.4 857.6,673.6 858.3,671.4 858.9,668.9 859.6,666.0 860.3,662.7 860.9,658.9 861.6,654.6 862.3,649.9 862.9,644.5 863.6,638.6 864.2,632.1 864.9,624.9 865.6,617.2 866.2,608.9 866.9,600.0 867.6,590.5 868.2,580.6 868.9,570.2 869.6,559.5 870.2,548.5 870.9,537.3 871.6,526.0 872.2,514.9 872.9,503.9 873.6,493.2 874.2,483.0 874.9,473.4 875.6,464.5 876.2,456.5 876.9,449.4 877.6,443.5 878.2,438.7 878.9,435.2 879.5,433.0 880.2,432.1 880.9,432.9 881.5,435.9 882.2,441.0 882.9,448.1 883.5,457.0 884.2,467.4 884.9,479.2 885.5,492.0 886.2,505.6 886.9,519.6 887.5,533.9 888.2,548.2 888.9,562.1 889.5,575.6 890.2,588.5 890.9,600.6 891.5,611.7 892.2,622.0 892.8,631.3 893.5,639.5 894.2,646.9 894.8,653.3 895.5,658.8 896.2,663.5 896.8,667.5 897.5,670.9 898.2,673.7 898.8,676.0 899.5,677.8 900.2,679.3 900.8,680.5 901.5,681.4 902.2,682.2 902.8,682.7 903.5,683.2 904.2,683.5 904.8,683.7 905.5,683.9 906.2,684.1 906.8,684.2 907.5,684.2 908.1,684.3 908.8,684.3 909.5,684.4 910.1,684.4 910.8,684.4 911.5,684.4 912.1,684.4 912.8,684.4 913.5,684.4 914.1,684.4 914.8,684.4 915.5,684.4 916.1,684.4 916.8,684.4 917.5,684.4 918.1,684.4 918.8,684.4 919.5,684.4 920.1,684.4 920.8,684.4 921.4,684.4 922.1,684.4 922.8,684.4 923.4,684.4 924.1,684.4 924.8,684.4 925.4,684.4 926.1,684.4 926.8,684.4 927.4,684.4 928.1,684.4 928.8,684.4 929.4,684.4 930.1,684.4 930.8,684.4 931.4,684.4 932.1,684.4 932.8,684.4 933.4,684.4 934.1,684.4 934.7,684.4 935.4,684.4 936.1,684.4 936.7,684.4 937.4,684.4 938.1,684.4 938.7,684.4 939.4,684.4 940.1,684.4 940.7,684.4 941.4,684.4 942.1,684.4 942.7,684.4 943.4,684.4 944.1,684.4 944.7,684.4 945.4,684.4 946.1,684.4 946.7,684.4 947.4,684.4 948.1,684.4 948.7,684.4 949.4,684.4 950.0,684.4 950.7,684.4 951.4,684.4 952.0,684.4 952.7,684.4 953.4,684.4 954.0,684.4 954.7,684.4 955.4,684.4 956.0,684.4 956.7,684.4 957.4,684.4 958.0,684.4 958.7,684.4 959.4,684.4 960.0,684.4 960.7,684.4 961.4,684.4 962.0,684.4 962.7,684.4 963.3,684.4 964.0,684.4 964.7,684.4 965.3,684.4 966.0,684.4 966.7,684.4 967.3,684.4 968.0,684.4 968.7,684.4 969.3,684.4 970.0,684.4 970.7,684.4 971.3,684.4 972.0,684.4 972.7,684.4 973.3,684.4 974.0,684.4 974.7,684.4 975.3,684.4" fill="none" stroke="#ffff00" stroke-width="3.2" stroke-linejoin="round"/>
<polyline points="377.4,606.1 378.1,608.2 378.7,610.2 379.4,611.9 380.1,613.5 380.7,614.9 381.4,616.1 382.1,617.3 382.7,618.3 383.4,619.2 384.1,620.0 384.7,620.7 385.4,621.4 386.0,621.9 386.7,622.4 387.4,622.9 388.0,623.2 388.7,623.5 389.4,623.8 390.0,624.0 390.7,624.1 391.4,624.1 392.0,624.1 392.7,624.0 393.4,623.9 394.0,623.6 394.7,623.3 395.4,622.9 396.0,622.4 396.7,621.8 397.4,621.0 398.0,620.1 398.7,619.1 399.3,617.9 400.0,616.6 400.7,615.0 401.3,613.3 402.0,611.3 402.7,609.1 403.3,606.6 404.0,603.9 404.7,600.9 405.3,597.5 406.0,593.9 406.7,589.9 407.3,585.6 408.0,580.9 408.7,575.9 409.3,570.4 410.0,564.7 410.7,558.5 411.3,551.9 412.0,545.0 412.7,537.8 413.3,530.2 414.0,522.3 414.6,514.1 415.3,505.6 416.0,496.9 416.6,488.1 417.3,479.1 418.0,470.0 418.6,460.8 419.3,451.7 420.0,442.7 420.6,434.0 421.3,425.6 422.0,417.6 422.6,410.0 423.3,403.0 424.0,396.5 424.6,390.6 425.3,385.5 426.0,381.0 426.6,377.3 427.3,374.4 427.9,372.3 428.6,371.0 429.3,370.7 429.9,371.2 430.6,372.6 431.3,375.3 431.9,379.2 432.6,384.4 433.3,390.9 433.9,398.4 434.6,407.0 435.3,416.5 435.9,426.9 436.6,438.1 437.3,449.8 437.9,462.0 438.6,474.6 439.3,487.4 439.9,500.3 440.6,513.2 441.2,525.9 441.9,538.5 442.6,550.7 443.2,562.6 443.9,574.0 444.6,584.8 445.2,595.1 445.9,604.7 446.6,613.7 447.2,622.1 447.9,629.7 448.6,636.7 449.2,643.1 449.9,648.7 450.6,653.7 451.2,658.1 451.9,661.9 452.6,665.3 453.2,668.2 453.9,670.8 454.6,673.0 455.2,675.0 455.9,676.6 456.5,678.1 457.2,679.3 457.9,680.3 458.5,681.2 459.2,681.9 459.9,682.5 460.5,683.1 461.2,683.5 461.9,683.8 462.5,684.1 463.2,684.3 463.9,684.5 464.5,684.7 465.2,684.8 465.9,684.9 466.5,685.0 467.2,685.0 467.9,685.1 468.5,685.1 469.2,685.1 469.8,685.2 470.5,685.2 471.2,685.2 471.8,685.2 472.5,685.2 473.2,685.2 473.8,685.2 474.5,685.2 475.2,685.2 475.8,685.2 476.5,685.2 477.2,685.2 477.8,685.2 478.5,685.2 479.2,685.2 479.8,685.2 480.5,685.2 481.2,685.2 481.8,685.2 482.5,685.2 483.2,685.2 483.8,685.2 484.5,685.2 485.1,685.2 485.8,685.2 486.5,685.2 487.1,685.2 487.8,685.2 488.5,685.2 489.1,685.2 489.8,685.2 490.5,685.2 491.1,685.2 491.8,685.2 492.5,685.2 493.1,685.2 493.8,685.2 494.5,685.2 495.1,685.2 495.8,685.2 496.5,685.1 497.1,685.1 497.8,685.1 498.4,685.1 499.1,685.1 499.8,685.0 500.4,685.0 501.1,685.0 501.8,684.9 502.4,684.9 503.1,684.8 503.8,684.7 504.4,684.6 505.1,684.5 505.8,684.4 506.4,684.3 507.1,684.2 507.8,684.0 508.4,683.9 509.1,683.7 509.8,683.4 510.4,683.2 511.1,682.9 511.7,682.6 512.4,682.2 513.1,681.8 513.7,681.3 514.4,680.8 515.1,680.3 515.7,679.6 516.4,678.9 517.1,678.1 517.7,677.3 518.4,676.3 519.1,675.3 519.7,674.2 520.4,672.9 521.1,671.5 521.7,670.0 522.4,668.4 523.1,666.6 523.7,664.7 524.4,662.5 525.1,660.3 525.7,657.8 526.4,655.2 527.0,652.3 527.7,649.3 528.4,646.0 529.0,642.5 529.7,638.7 530.4,634.8 531.0,630.5 531.7,626.1 532.4,621.3 533.0,616.3 533.7,611.1 534.4,605.5 535.0,599.7 535.7,593.7 536.4,587.3 537.0,580.8 537.7,573.9 538.4,566.8 539.0,559.5 539.7,551.9 540.3,544.2 541.0,536.2 541.7,528.0 542.3,519.7 543.0,511.2 543.7,502.6 544.3,493.9 545.0,485.2 545.7,476.4 546.3,467.5 547.0,458.7 547.7,449.9 548.3,441.2 549.0,432.6 549.7,424.1 550.3,415.8 551.0,407.8 551.7,399.9 552.3,392.3 553.0,385.1 553.7,378.1 554.3,371.6 555.0,365.4 555.6,359.7 556.3,354.5 557.0,349.7 557.6,345.4 558.3,341.7 559.0,338.5 559.6,335.9 560.3,333.8 561.0,332.3 561.6,331.5 562.3,331.2 563.0,333.4 563.6,339.7 564.3,349.9 565.0,363.5 565.6,380.2 566.3,399.4 567.0,420.5 567.6,442.9 568.3,466.0 568.9,489.2 569.6,512.0 570.3,533.9 570.9,554.6 571.6,573.8 572.3,591.3 572.9,606.9 573.6,620.7 574.3,632.7 574.9,643.0 575.6,651.6 576.3,658.8 576.9,664.7 577.6,669.5 578.3,673.3 578.9,676.3 579.6,678.6 580.3,680.4 580.9,681.7 581.6,682.7 582.2,683.4 582.9,684.0 583.6,684.4 584.2,684.6 584.9,684.8 585.6,685.0 586.2,685.1 586.9,685.1 587.6,685.2 588.2,685.2 588.9,685.2 589.6,685.2 590.2,685.2 590.9,685.2 591.6,685.2 592.2,685.2 592.9,685.2 593.6,685.2 594.2,685.2 594.9,685.2 595.6,685.2 596.2,685.2 596.9,685.2 597.5,685.2 598.2,685.2 598.9,685.2 599.5,685.2 600.2,685.2 600.9,685.2 601.5,685.2 602.2,685.2 602.9,685.2 603.5,685.2 604.2,685.2 604.9,685.2 605.5,685.2 606.2,685.2 606.9,685.2 607.5,685.2 608.2,685.2 608.9,685.2 609.5,685.2 610.2,685.2 610.8,685.2 611.5,685.2 612.2,685.2 612.8,685.2 613.5,685.2 614.2,685.2 614.8,685.2 615.5,685.2 616.2,685.2 616.8,685.2 617.5,685.2 618.2,685.2 618.8,685.2 619.5,685.2 620.2,685.2 620.8,685.2 621.5,685.2 622.2,685.2 622.8,685.2 623.5,685.2 624.2,685.2 624.8,685.2 625.5,685.2 626.1,685.2 626.8,685.2 627.5,685.2 628.1,685.2 628.8,685.2 629.5,685.2 630.1,685.2 630.8,685.2 631.5,685.2 632.1,685.2 632.8,685.2 633.5,685.2 634.1,685.2 634.8,685.2 635.5,685.2 636.1,685.2 636.8,685.2 637.5,685.2 638.1,685.2 638.8,685.2 639.4,685.2 640.1,685.2 640.8,685.2 641.4,685.2 642.1,685.2 642.8,685.2 643.4,685.2 644.1,685.2 644.8,685.2 645.4,685.2 646.1,685.2 646.8,685.2 647.4,685.2 648.1,685.2 648.8,685.2 649.4,685.2 650.1,685.2 650.8,685.2 651.4,685.2 652.1,685.2 652.7,685.2 653.4,685.2 654.1,685.2 654.7,685.2 655.4,685.2 656.1,685.2 656.7,685.2 657.4,685.2 658.1,685.2 658.7,685.2 659.4,685.2 660.1,685.2 660.7,685.2 661.4,685.2 662.1,685.2 662.7,685.2 663.4,685.2 664.1,685.2 664.7,685.2 665.4,685.2 666.1,685.2 666.7,685.2 667.4,685.2 668.0,685.2 668.7,685.2 669.4,685.2 670.0,685.2 670.7,685.2 671.4,685.2 672.0,685.2 672.7,685.2 673.4,685.2 674.0,685.2 674.7,685.2 675.4,685.2 676.0,685.2 676.7,685.1 677.4,685.1 678.0,685.1 678.7,685.1 679.4,685.1 680.0,685.1 680.7,685.0 681.3,685.0 682.0,685.0 682.7,685.0 683.3,684.9 684.0,684.9 684.7,684.9 685.3,684.8 686.0,684.7 686.7,684.7 687.3,684.6 688.0,684.5 688.7,684.5 689.3,684.4 690.0,684.3 690.7,684.2 691.3,684.0 692.0,683.9 692.7,683.7 693.3,683.6 694.0,683.4 694.7,683.2 695.3,683.0 696.0,682.7 696.6,682.4 697.3,682.1 698.0,681.8 698.6,681.5 699.3,681.1 700.0,680.7 700.6,680.2 701.3,679.7 702.0,679.2 702.6,678.6 703.3,677.9 704.0,677.2 704.6,676.5 705.3,675.7 706.0,674.8 706.6,673.9 707.3,672.9 708.0,671.8 708.6,670.6 709.3,669.4 709.9,668.1 710.6,666.6 711.3,665.1 711.9,663.5 712.6,661.8 713.3,659.9 713.9,658.0 714.6,655.9 715.3,653.7 715.9,651.4 716.6,648.9 717.3,646.3 717.9,643.6 718.6,640.7 719.3,637.6 719.9,634.5 720.6,631.1 721.3,627.6 721.9,623.9 722.6,620.1 723.2,616.1 723.9,612.0 724.6,607.6 725.2,603.1 725.9,598.5 726.6,593.6 727.2,588.6 727.9,583.5 728.6,578.1 729.2,572.6 729.9,567.0 730.6,561.2 731.2,555.3 731.9,549.2 732.6,543.0 733.2,536.7 733.9,530.2 734.6,523.6 735.2,517.0 735.9,510.2 736.6,503.4 737.2,496.5 737.9,489.6 738.5,482.6 739.2,475.6 739.9,468.6 740.5,461.6 741.2,454.6 741.9,447.6 742.5,440.7 743.2,433.9 743.9,427.1 744.5,420.5 745.2,414.0 745.9,407.6 746.5,401.3 747.2,395.2 747.9,389.3 748.5,383.6 749.2,378.2 749.9,372.9 750.5,367.9 751.2,363.2 751.8,358.8 752.5,354.6 753.2,350.8 753.8,347.2 754.5,344.0 755.2,341.1 755.8,338.6 756.5,336.4 757.2,334.6 757.8,333.2 758.5,332.1 759.2,331.4 759.8,331.1 760.5,331.3 761.2,332.8 761.8,335.5 762.5,339.5 763.2,344.7 763.8,351.1 764.5,358.5 765.2,366.9 765.8,376.3 766.5,386.4 767.1,397.3 767.8,408.8 768.5,420.8 769.1,433.3 769.8,446.0 770.5,458.9 771.1,471.8 771.8,484.8 772.5,497.7 773.1,510.4 773.8,522.8 774.5,534.9 775.1,546.6 775.8,557.8 776.5,568.6 777.1,578.8 777.8,588.5 778.5,597.7 779.1,606.2 779.8,614.2 780.4,621.6 781.1,628.4 781.8,634.7 782.4,640.5 783.1,645.7 783.8,650.5 784.4,654.7 785.1,658.6 785.8,662.0 786.4,665.1 787.1,667.8 787.8,670.2 788.4,672.3 789.1,674.2 789.8,675.8 790.4,677.2 791.1,678.4 791.8,679.5 792.4,680.4 793.1,681.1 793.7,681.8 794.4,682.3 795.1,682.8 795.7,683.2 796.4,683.5 797.1,683.8 797.7,684.0 798.4,684.2 799.1,684.3 799.7,684.5 800.4,684.6 801.1,684.6 801.7,684.7 802.4,684.8 803.1,684.8 803.7,684.8 804.4,684.9 805.1,684.9 805.7,684.9 806.4,684.9 807.1,684.9 807.7,684.9 808.4,684.9 809.0,684.9 809.7,684.9 810.4,685.0 811.0,685.0 811.7,685.0 812.4,685.0 813.0,685.0 813.7,685.0 814.4,685.0 815.0,685.0 815.7,685.0 816.4,685.0 817.0,685.0 817.7,685.0 818.4,685.0 819.0,685.0 819.7,685.0 820.4,685.0 821.0,685.0 821.7,685.0 822.3,685.0 823.0,685.0 823.7,685.0 824.3,685.0 825.0,685.0 825.7,685.0 826.3,685.0 827.0,685.0 827.7,685.0 828.3,685.0 829.0,685.0 829.7,685.0 830.3,685.0 831.0,685.0 831.7,685.0 832.3,685.0 833.0,685.0 833.7,685.0 834.3,685.0 835.0,685.0 835.7,685.0 836.3,685.0 837.0,685.0 837.6,685.0 838.3,684.9 839.0,684.9 839.6,684.9 840.3,684.9 841.0,684.9 841.6,684.9 842.3,684.9 843.0,684.9 843.6,684.9 844.3,684.9 845.0,684.8 845.6,684.8 846.3,684.7 847.0,684.7 847.6,684.6 848.3,684.5 849.0,684.3 849.6,684.1 850.3,683.9 850.9,683.6 851.6,683.3 852.3,682.9 852.9,682.3 853.6,681.7 854.3,680.9 854.9,680.0 855.6,678.8 856.3,677.5 856.9,675.9 857.6,674.1 858.3,671.9 858.9,669.4 859.6,666.5 860.3,663.2 860.9,659.4 861.6,655.1 862.3,650.3 862.9,644.9 863.6,639.0 864.2,632.4 864.9,625.3 865.6,617.5 866.2,609.2 866.9,600.2 867.6,590.8 868.2,580.8 868.9,570.4 869.6,559.6 870.2,548.6 870.9,537.4 871.6,526.1 872.2,514.9 872.9,503.8 873.6,493.1 874.2,482.9 874.9,473.2 875.6,464.3 876.2,456.3 876.9,449.2 877.6,443.2 878.2,438.5 878.9,434.9 879.5,432.7 880.2,431.9 880.9,432.7 881.5,435.7 882.2,440.8 882.9,447.9 883.5,456.8 884.2,467.2 884.9,479.0 885.5,491.9 886.2,505.5 886.9,519.6 887.5,534.0 888.2,548.3 888.9,562.3 889.5,575.8 890.2,588.7 890.9,600.8 891.5,612.1 892.2,622.3 892.8,631.6 893.5,639.9 894.2,647.3 894.8,653.7 895.5,659.3 896.2,664.0 896.8,668.0 897.5,671.4 898.2,674.2 898.8,676.5 899.5,678.3 900.2,679.8 900.8,681.0 901.5,682.0 902.2,682.7 902.8,683.3 903.5,683.7 904.2,684.0 904.8,684.3 905.5,684.5 906.2,684.6 906.8,684.7 907.5,684.8 908.1,684.8 908.8,684.9 909.5,684.9 910.1,684.9 910.8,684.9 911.5,684.9 912.1,684.9 912.8,684.9 913.5,684.9 914.1,685.0 914.8,685.0 915.5,685.0 916.1,685.0 916.8,685.0 917.5,685.0 918.1,685.0 918.8,685.0 919.5,685.0 920.1,685.0 920.8,685.0 921.4,685.0 922.1,685.0 922.8,685.0 923.4,685.0 924.1,685.0 924.8,685.0 925.4,685.0 926.1,685.0 926.8,685.0 927.4,685.0 928.1,685.0 928.8,685.0 929.4,685.0 930.1,685.0 930.8,685.0 931.4,685.0 932.1,685.0 932.8,685.0 933.4,685.0 934.1,685.0 934.7,685.0 935.4,685.0 936.1,685.0 936.7,685.0 937.4,685.0 938.1,685.0 938.7,685.0 939.4,685.0 940.1,685.0 940.7,685.0 941.4,685.0 942.1,685.0 942.7,685.0 943.4,685.0 944.1,685.0 944.7,685.0 945.4,685.0 946.1,685.0 946.7,685.0 947.4,685.0 948.1,685.0 948.7,685.0 949.4,685.0 950.0,685.0 950.7,685.0 951.4,685.0 952.0,685.0 952.7,685.0 953.4,685.0 954.0,685.0 954.7,685.0 955.4,685.0 956.0,685.0 956.7,685.0 957.4,685.0 958.0,685.0 958.7,685.0 959.4,685.0 960.0,685.0 960.7,685.0 961.4,685.0 962.0,685.0 962.7,685.0 963.3,685.0 964.0,685.0 964.7,685.0 965.3,685.0 966.0,685.0 966.7,685.0 967.3,685.0 968.0,685.0 968.7,685.0 969.3,685.0 970.0,685.0 970.7,685.0 971.3,685.0 972.0,685.0 972.7,685.0 973.3,685.0 974.0,685.0 974.7,685.0 975.3,685.0" fill="none" stroke="#ff8000" stroke-width="3.2" stroke-linejoin="round"/>
<polyline points="377.4,617.6 378.1,618.9 378.7,620.1 379.4,621.2 380.1,622.1 380.7,623.0 381.4,623.8 382.1,624.5 382.7,625.1 383.4,625.7 384.1,626.2 384.7,626.6 385.4,627.0 386.0,627.4 386.7,627.6 387.4,627.9 388.0,628.1 388.7,628.2 389.4,628.3 390.0,628.4 390.7,628.4 391.4,628.3 392.0,628.2 392.7,628.0 393.4,627.8 394.0,627.5 394.7,627.1 395.4,626.6 396.0,626.0 396.7,625.3 397.4,624.5 398.0,623.6 398.7,622.5 399.3,621.3 400.0,619.9 400.7,618.3 401.3,616.5 402.0,614.5 402.7,612.2 403.3,609.7 404.0,606.9 404.7,603.8 405.3,600.4 406.0,596.7 406.7,592.6 407.3,588.2 408.0,583.4 408.7,578.3 409.3,572.7 410.0,566.8 410.7,560.5 411.3,553.9 412.0,546.9 412.7,539.5 413.3,531.7 414.0,523.7 414.6,515.3 415.3,506.7 416.0,497.9 416.6,488.8 417.3,479.7 418.0,470.4 418.6,461.1 419.3,451.8 420.0,442.6 420.6,433.7 421.3,425.1 422.0,417.0 422.6,409.2 423.3,402.0 424.0,395.3 424.6,389.3 425.3,383.9 426.0,379.2 426.6,375.4 427.3,372.3 427.9,370.0 428.6,368.7 429.3,368.2 429.9,368.6 430.6,369.9 431.3,372.4 431.9,376.3 432.6,381.5 433.3,387.8 433.9,395.4 434.6,403.9 435.3,413.5 435.9,423.9 436.6,435.1 437.3,446.9 437.9,459.2 438.6,471.8 439.3,484.7 439.9,497.7 440.6,510.7 441.2,523.5 441.9,536.2 442.6,548.5 443.2,560.4 443.9,571.9 444.6,582.8 445.2,593.2 445.9,602.9 446.6,612.0 447.2,620.4 447.9,628.1 448.6,635.2 449.2,641.6 449.9,647.3 450.6,652.4 451.2,656.8 451.9,660.7 452.6,664.1 453.2,667.1 453.9,669.7 454.6,672.0 455.2,674.0 455.9,675.7 456.5,677.1 457.2,678.4 457.9,679.4 458.5,680.3 459.2,681.1 459.9,681.7 460.5,682.2 461.2,682.6 461.9,683.0 462.5,683.3 463.2,683.5 463.9,683.7 464.5,683.8 465.2,684.0 465.9,684.1 466.5,684.1 467.2,684.2 467.9,684.2 468.5,684.3 469.2,684.3 469.8,684.3 470.5,684.4 471.2,684.4 471.8,684.4 472.5,684.4 473.2,684.4 473.8,684.4 474.5,684.4 475.2,684.4 475.8,684.4 476.5,684.4 477.2,684.4 477.8,684.4 478.5,684.4 479.2,684.4 479.8,684.4 480.5,684.4 481.2,684.4 481.8,684.4 482.5,684.4 483.2,684.4 483.8,684.4 484.5,684.4 485.1,684.4 485.8,684.4 486.5,684.4 487.1,684.4 487.8,684.4 488.5,684.4 489.1,684.4 489.8,684.4 490.5,684.4 491.1,684.4 491.8,684.4 492.5,684.4 493.1,684.4 493.8,684.4 494.5,684.4 495.1,684.3 495.8,684.3 496.5,684.3 497.1,684.3 497.8,684.3 498.4,684.3 499.1,684.2 499.8,684.2 500.4,684.2 501.1,684.1 501.8,684.1 502.4,684.0 503.1,684.0 503.8,683.9 504.4,683.8 505.1,683.7 505.8,683.6 506.4,683.5 507.1,683.4 507.8,683.2 508.4,683.0 509.1,682.8 509.8,682.6 510.4,682.3 511.1,682.0 511.7,681.7 512.4,681.3 513.1,680.9 513.7,680.5 514.4,679.9 515.1,679.4 515.7,678.7 516.4,678.0 517.1,677.2 517.7,676.4 518.4,675.4 519.1,674.4 519.7,673.2 520.4,671.9 521.1,670.5 521.7,669.0 522.4,667.3 523.1,665.5 523.7,663.6 524.4,661.4 525.1,659.1 525.7,656.6 526.4,654.0 527.0,651.1 527.7,648.0 528.4,644.6 529.0,641.1 529.7,637.3 530.4,633.3 531.0,629.0 531.7,624.5 532.4,619.7 533.0,614.6 533.7,609.3 534.4,603.7 535.0,597.8 535.7,591.7 536.4,585.2 537.0,578.6 537.7,571.6 538.4,564.5 539.0,557.0 539.7,549.4 540.3,541.5 541.0,533.4 541.7,525.2 542.3,516.7 543.0,508.1 543.7,499.4 544.3,490.6 545.0,481.7 545.7,472.8 546.3,463.9 547.0,454.9 547.7,446.0 548.3,437.2 549.0,428.5 549.7,419.9 550.3,411.5 551.0,403.3 551.7,395.4 552.3,387.7 553.0,380.3 553.7,373.3 554.3,366.7 555.0,360.4 555.6,354.7 556.3,349.3 557.0,344.5 557.6,340.2 558.3,336.4 559.0,333.1 559.6,330.5 560.3,328.4 561.0,326.9 561.6,326.0 562.3,325.7 563.0,328.0 563.6,334.4 564.3,344.7 565.0,358.5 565.6,375.4 566.3,394.8 567.0,416.2 567.6,438.9 568.3,462.3 568.9,485.8 569.6,508.9 570.3,531.1 570.9,552.1 571.6,571.5 572.3,589.2 572.9,605.1 573.6,619.1 574.3,631.2 574.9,641.6 575.6,650.4 576.3,657.7 576.9,663.6 577.6,668.5 578.3,672.3 578.9,675.3 579.6,677.7 580.3,679.5 580.9,680.8 581.6,681.9 582.2,682.6 582.9,683.1 583.6,683.5 584.2,683.8 584.9,684.0 585.6,684.1 586.2,684.2 586.9,684.3 587.6,684.3 588.2,684.4 588.9,684.4 589.6,684.4 590.2,684.4 590.9,684.4 591.6,684.4 592.2,684.4 592.9,684.4 593.6,684.4 594.2,684.4 594.9,684.4 595.6,684.4 596.2,684.4 596.9,684.4 597.5,684.4 598.2,684.4 598.9,684.4 599.5,684.4 600.2,684.4 600.9,684.4 601.5,684.4 602.2,684.4 602.9,684.4 603.5,684.4 604.2,684.4 604.9,684.4 605.5,684.4 606.2,684.4 606.9,684.4 607.5,684.4 608.2,684.4 608.9,684.4 609.5,684.4 610.2,684.4 610.8,684.4 611.5,684.4 612.2,684.4 612.8,684.4 613.5,684.4 614.2,684.4 614.8,684.4 615.5,684.4 616.2,684.4 616.8,684.4 617.5,684.4 618.2,684.4 618.8,684.4 619.5,684.4 620.2,684.4 620.8,684.4 621.5,684.4 622.2,684.4 622.8,684.4 623.5,684.4 624.2,684.4 624.8,684.4 625.5,684.4 626.1,684.4 626.8,684.4 627.5,684.4 628.1,684.4 628.8,684.4 629.5,684.4 630.1,684.4 630.8,684.4 631.5,684.4 632.1,684.4 632.8,684.4 633.5,684.4 634.1,684.4 634.8,684.4 635.5,684.4 636.1,684.4 636.8,684.4 637.5,684.4 638.1,684.4 638.8,684.4 639.4,684.4 640.1,684.4 640.8,684.4 641.4,684.4 642.1,684.4 642.8,684.4 643.4,684.4 644.1,684.4 644.8,684.4 645.4,684.4 646.1,684.4 646.8,684.4 647.4,684.4 648.1,684.4 648.8,684.4 649.4,684.4 650.1,684.4 650.8,684.4 651.4,684.4 652.1,684.4 652.7,684.4 653.4,684.4 654.1,684.4 654.7,684.4 655.4,684.4 656.1,684.4 656.7,684.4 657.4,684.4 658.1,684.4 658.7,684.4 659.4,684.4 660.1,684.4 660.7,684.4 661.4,684.4 662.1,684.4 662.7,684.4 663.4,684.4 664.1,684.4 664.7,684.4 665.4,684.4 666.1,684.4 666.7,684.4 667.4,684.4 668.0,684.4 668.7,684.4 669.4,684.4 670.0,684.4 670.7,684.4 671.4,684.4 672.0,684.4 672.7,684.4 673.4,684.4 674.0,684.4 674.7,684.4 675.4,684.4 676.0,684.4 676.7,684.3 677.4,684.3 678.0,684.3 678.7,684.3 679.4,684.3 680.0,684.3 680.7,684.3 681.3,684.3 682.0,684.2 682.7,684.2 683.3,684.2 684.0,684.1 684.7,684.1 685.3,684.1 686.0,684.0 686.7,684.0 687.3,683.9 688.0,683.9 688.7,683.8 689.3,683.7 690.0,683.6 690.7,683.6 691.3,683.5 692.0,683.3 692.7,683.2 693.3,683.1 694.0,682.9 694.7,682.8 695.3,682.6 696.0,682.4 696.6,682.1 697.3,681.9 698.0,681.6 698.6,681.3 699.3,681.0 700.0,680.7 700.6,680.3 701.3,679.9 702.0,679.4 702.6,678.9 703.3,678.4 704.0,677.8 704.6,677.1 705.3,676.4 706.0,675.7 706.6,674.9 707.3,674.0 708.0,673.1 708.6,672.1 709.3,671.0 709.9,669.8 710.6,668.6 711.3,667.3 711.9,665.8 712.6,664.3 713.3,662.7 713.9,661.0 714.6,659.1 715.3,657.2 715.9,655.1 716.6,652.9 717.3,650.6 717.9,648.1 718.6,645.5 719.3,642.8 719.9,639.9 720.6,636.8 721.3,633.7 721.9,630.3 722.6,626.8 723.2,623.1 723.9,619.3 724.6,615.3 725.2,611.2 725.9,606.8 726.6,602.3 727.2,597.7 727.9,592.8 728.6,587.8 729.2,582.7 729.9,577.4 730.6,571.9 731.2,566.2 731.9,560.4 732.6,554.5 733.2,548.4 733.9,542.2 734.6,535.9 735.2,529.5 735.9,522.9 736.6,516.3 737.2,509.6 737.9,502.7 738.5,495.9 739.2,488.9 739.9,482.0 740.5,475.0 741.2,468.0 741.9,461.0 742.5,454.0 743.2,447.1 743.9,440.2 744.5,433.4 745.2,426.7 745.9,420.0 746.5,413.5 747.2,407.2 747.9,400.9 748.5,394.9 749.2,389.0 749.9,383.3 750.5,377.9 751.2,372.7 751.8,367.7 752.5,363.0 753.2,358.6 753.8,354.5 754.5,350.6 755.2,347.1 755.8,344.0 756.5,341.1 757.2,338.6 757.8,336.5 758.5,334.7 759.2,333.2 759.8,332.2 760.5,331.5 761.2,331.2 761.8,331.5 762.5,333.1 763.2,335.9 763.8,339.9 764.5,345.2 765.2,351.6 765.8,359.0 766.5,367.5 767.1,376.9 767.8,387.1 768.5,398.0 769.1,409.5 769.8,421.5 770.5,433.9 771.1,446.6 771.8,459.5 772.5,472.4 773.1,485.4 773.8,498.2 774.5,510.9 775.1,523.2 775.8,535.3 776.5,546.9 777.1,558.1 777.8,568.8 778.5,579.0 779.1,588.7 779.8,597.7 780.4,606.2 781.1,614.2 781.8,621.5 782.4,628.3 783.1,634.6 783.8,640.3 784.4,645.5 785.1,650.2 785.8,654.4 786.4,658.2 787.1,661.7 787.8,664.7 788.4,667.4 789.1,669.8 789.8,671.9 790.4,673.7 791.1,675.3 791.8,676.7 792.4,677.9 793.1,678.9 793.7,679.8 794.4,680.6 795.1,681.2 795.7,681.8 796.4,682.2 797.1,682.6 797.7,682.9 798.4,683.2 799.1,683.4 799.7,683.6 800.4,683.8 801.1,683.9 801.7,684.0 802.4,684.1 803.1,684.1 803.7,684.2 804.4,684.2 805.1,684.3 805.7,684.3 806.4,684.3 807.1,684.3 807.7,684.4 808.4,684.4 809.0,684.4 809.7,684.4 810.4,684.4 811.0,684.4 811.7,684.4 812.4,684.4 813.0,684.4 813.7,684.4 814.4,684.4 815.0,684.4 815.7,684.4 816.4,684.4 817.0,684.4 817.7,684.4 818.4,684.4 819.0,684.4 819.7,684.4 820.4,684.4 821.0,684.4 821.7,684.4 822.3,684.4 823.0,684.4 823.7,684.4 824.3,684.4 825.0,684.4 825.7,684.4 826.3,684.4 827.0,684.4 827.7,684.4 828.3,684.4 829.0,684.4 829.7,684.4 830.3,684.4 831.0,684.4 831.7,684.4 832.3,684.4 833.0,684.4 833.7,684.4 834.3,684.4 835.0,684.4 835.7,684.4 836.3,684.4 837.0,684.4 837.6,684.4 838.3,684.4 839.0,684.4 839.6,684.4 840.3,684.4 841.0,684.4 841.6,684.4 842.3,684.4 843.0,684.4 843.6,684.3 844.3,684.3 845.0,684.3 845.6,684.3 846.3,684.2 847.0,684.2 847.6,684.1 848.3,684.0 849.0,683.9 849.6,683.7 850.3,683.5 850.9,683.2 851.6,682.9 852.3,682.5 852.9,682.1 853.6,681.5 854.3,680.8 854.9,679.9 855.6,678.9 856.3,677.7 856.9,676.2 857.6,674.5 858.3,672.5 858.9,670.2 859.6,667.5 860.3,664.3 860.9,660.8 861.6,656.8 862.3,652.3 862.9,647.2 863.6,641.5 864.2,635.3 864.9,628.5 865.6,621.0 866.2,613.0 866.9,604.4 867.6,595.2 868.2,585.5 868.9,575.3 869.6,564.7 870.2,553.8 870.9,542.7 871.6,531.5 872.2,520.3 872.9,509.2 873.6,498.3 874.2,487.9 874.9,478.0 875.6,468.7 876.2,460.3 876.9,452.7 877.6,446.2 878.2,440.9 878.9,436.7 879.5,433.9 880.2,432.4 880.9,432.3 881.5,434.2 882.2,438.3 882.9,444.4 883.5,452.4 884.2,462.1 884.9,473.3 885.5,485.6 886.2,498.9 886.9,512.7 887.5,527.0 888.2,541.3 888.9,555.4 889.5,569.2 890.2,582.3 890.9,594.8 891.5,606.4 892.2,617.1 892.8,626.9 893.5,635.6 894.2,643.4 894.8,650.3 895.5,656.2 896.2,661.3 896.8,665.7 897.5,669.3 898.2,672.4 898.8,674.9 899.5,677.0 900.2,678.6 900.8,680.0 901.5,681.0 902.2,681.8 902.8,682.5 903.5,683.0 904.2,683.4 904.8,683.6 905.5,683.9 906.2,684.0 906.8,684.1 907.5,684.2 908.1,684.3 908.8,684.3 909.5,684.3 910.1,684.4 910.8,684.4 911.5,684.4 912.1,684.4 912.8,684.4 913.5,684.4 914.1,684.4 914.8,684.4 915.5,684.4 916.1,684.4 916.8,684.4 917.5,684.4 918.1,684.4 918.8,684.4 919.5,684.4 920.1,684.4 920.8,684.4 921.4,684.4 922.1,684.4 922.8,684.4 923.4,684.4 924.1,684.4 924.8,684.4 925.4,684.4 926.1,684.4 926.8,684.4 927.4,684.4 928.1,684.4 928.8,684.4 929.4,684.4 930.1,684.4 930.8,684.4 931.4,684.4 932.1,684.4 932.8,684.4 933.4,684.4 934.1,684.4 934.7,684.4 935.4,684.4 936.1,684.4 936.7,684.4 937.4,684.4 938.1,684.4 938.7,684.4 939.4,684.4 940.1,684.4 940.7,684.4 941.4,684.4 942.1,684.4 942.7,684.4 943.4,684.4 944.1,684.4 944.7,684.4 945.4,684.4 946.1,684.4 946.7,684.4 947.4,684.4 948.1,684.4 948.7,684.4 949.4,684.4 950.0,684.4 950.7,684.4 951.4,684.4 952.0,684.4 952.7,684.4 953.4,684.4 954.0,684.4 954.7,684.4 955.4,684.4 956.0,684.4 956.7,684.4 957.4,684.4 958.0,684.4 958.7,684.4 959.4,684.4 960.0,684.4 960.7,684.4 961.4,684.4 962.0,684.4 962.7,684.4 963.3,684.4 964.0,684.4 964.7,684.4 965.3,684.4 966.0,684.4 966.7,684.4 967.3,684.4 968.0,684.4 968.7,684.4 969.3,684.4 970.0,684.4 970.7,684.4 971.3,684.4 972.0,684.4 972.7,684.4 973.3,684.4 974.0,684.4 974.7,684.4 975.3,684.4" fill="none" stroke="#00ff00" stroke-width="3.2" stroke-linejoin="round"/>
<polyline points="377.4,641.6 378.1,642.4 378.7,643.1 379.4,643.7 380.1,644.3 380.7,644.8 381.4,645.3 382.1,645.7 382.7,646.1 383.4,646.4 384.1,646.7 384.7,646.9 385.4,647.1 386.0,647.3 386.7,647.5 387.4,647.6 388.0,647.7 388.7,647.7 389.4,647.7 390.0,647.6 390.7,647.6 391.4,647.4 392.0,647.3 392.7,647.0 393.4,646.7 394.0,646.3 394.7,645.9 395.4,645.3 396.0,644.7 396.7,644.0 397.4,643.1 398.0,642.1 398.7,641.0 399.3,639.6 400.0,638.2 400.7,636.5 401.3,634.6 402.0,632.5 402.7,630.1 403.3,627.5 404.0,624.5 404.7,621.3 405.3,617.8 406.0,613.9 406.7,609.7 407.3,605.1 408.0,600.1 408.7,594.7 409.3,589.0 410.0,582.8 410.7,576.3 411.3,569.4 412.0,562.0 412.7,554.4 413.3,546.3 414.0,537.9 414.6,529.2 415.3,520.3 416.0,511.1 416.6,501.7 417.3,492.1 418.0,482.5 418.6,472.8 419.3,463.2 420.0,453.6 420.6,444.3 421.3,435.2 422.0,426.6 422.6,418.3 423.3,410.6 424.0,403.4 424.6,396.7 425.3,390.8 426.0,385.6 426.6,381.1 427.3,377.5 427.9,374.7 428.6,372.8 429.3,371.8 429.9,371.6 430.6,372.5 431.3,374.6 431.9,378.0 432.6,382.8 433.3,388.8 433.9,396.0 434.6,404.4 435.3,413.7 435.9,423.9 436.6,434.9 437.3,446.6 437.9,458.7 438.6,471.3 439.3,484.1 439.9,497.0 440.6,510.0 441.2,522.8 441.9,535.4 442.6,547.7 443.2,559.7 443.9,571.1 444.6,582.1 445.2,592.4 445.9,602.2 446.6,611.3 447.2,619.7 447.9,627.5 448.6,634.6 449.2,641.0 449.9,646.8 450.6,652.0 451.2,656.6 451.9,660.6 452.6,664.1 453.2,667.2 453.9,669.9 454.6,672.3 455.2,674.4 455.9,676.1 456.5,677.6 457.2,678.9 457.9,680.0 458.5,681.0 459.2,681.7 459.9,682.4 460.5,682.9 461.2,683.4 461.9,683.7 462.5,684.0 463.2,684.3 463.9,684.5 464.5,684.6 465.2,684.8 465.9,684.9 466.5,684.9 467.2,685.0 467.9,685.1 468.5,685.1 469.2,685.1 469.8,685.2 470.5,685.2 471.2,685.2 471.8,685.2 472.5,685.2 473.2,685.2 473.8,685.2 474.5,685.2 475.2,685.2 475.8,685.2 476.5,685.2 477.2,685.2 477.8,685.2 478.5,685.2 479.2,685.2 479.8,685.2 480.5,685.2 481.2,685.2 481.8,685.2 482.5,685.2 483.2,685.2 483.8,685.2 484.5,685.2 485.1,685.2 485.8,685.2 486.5,685.2 487.1,685.2 487.8,685.2 488.5,685.2 489.1,685.2 489.8,685.2 490.5,685.2 491.1,685.2 491.8,685.2 492.5,685.2 493.1,685.2 493.8,685.2 494.5,685.2 495.1,685.2 495.8,685.2 496.5,685.1 497.1,685.1 497.8,685.1 498.4,685.1 499.1,685.1 499.8,685.0 500.4,685.0 501.1,684.9 501.8,684.9 502.4,684.8 503.1,684.8 503.8,684.7 504.4,684.6 505.1,684.5 505.8,684.4 506.4,684.3 507.1,684.2 507.8,684.0 508.4,683.8 509.1,683.6 509.8,683.4 510.4,683.1 511.1,682.8 511.7,682.5 512.4,682.1 513.1,681.7 513.7,681.3 514.4,680.8 515.1,680.2 515.7,679.5 516.4,678.8 517.1,678.0 517.7,677.2 518.4,676.2 519.1,675.1 519.7,674.0 520.4,672.7 521.1,671.3 521.7,669.8 522.4,668.1 523.1,666.3 523.7,664.3 524.4,662.2 525.1,659.9 525.7,657.4 526.4,654.7 527.0,651.8 527.7,648.7 528.4,645.4 529.0,641.8 529.7,638.0 530.4,634.0 531.0,629.7 531.7,625.2 532.4,620.3 533.0,615.3 533.7,609.9 534.4,604.3 535.0,598.4 535.7,592.3 536.4,585.8 537.0,579.1 537.7,572.2 538.4,565.0 539.0,557.6 539.7,549.9 540.3,542.0 541.0,533.9 541.7,525.6 542.3,517.2 543.0,508.6 543.7,499.8 544.3,491.0 545.0,482.1 545.7,473.1 546.3,464.2 547.0,455.2 547.7,446.3 548.3,437.4 549.0,428.7 549.7,420.1 550.3,411.7 551.0,403.5 551.7,395.5 552.3,387.8 553.0,380.4 553.7,373.4 554.3,366.8 555.0,360.5 555.6,354.7 556.3,349.4 557.0,344.5 557.6,340.2 558.3,336.4 559.0,333.2 559.6,330.5 560.3,328.4 561.0,326.9 561.6,326.0 562.3,325.7 563.0,328.0 563.6,334.4 564.3,344.7 565.0,358.5 565.6,375.5 566.3,395.0 567.0,416.4 567.6,439.2 568.3,462.6 568.9,486.2 569.6,509.3 570.3,531.6 570.9,552.6 571.6,572.1 572.3,589.8 572.9,605.7 573.6,619.7 574.3,631.9 574.9,642.3 575.6,651.1 576.3,658.4 576.9,664.4 577.6,669.2 578.3,673.1 578.9,676.1 579.6,678.5 580.3,680.3 580.9,681.7 581.6,682.7 582.2,683.4 582.9,684.0 583.6,684.4 584.2,684.6 584.9,684.8 585.6,685.0 586.2,685.1 586.9,685.1 587.6,685.2 588.2,685.2 588.9,685.2 589.6,685.2 590.2,685.2 590.9,685.2 591.6,685.2 592.2,685.2 592.9,685.2 593.6,685.2 594.2,685.2 594.9,685.2 595.6,685.2 596.2,685.2 596.9,685.2 597.5,685.2 598.2,685.2 598.9,685.2 599.5,685.2 600.2,685.2 600.9,685.2 601.5,685.2 602.2,685.2 602.9,685.2 603.5,685.2 604.2,685.2 604.9,685.2 605.5,685.2 606.2,685.2 606.9,685.2 607.5,685.2 608.2,685.2 608.9,685.2 609.5,685.2 610.2,685.2 610.8,685.2 611.5,685.2 612.2,685.2 612.8,685.2 613.5,685.2 614.2,685.2 614.8,685.2 615.5,685.2 616.2,685.2 616.8,685.2 617.5,685.2 618.2,685.2 618.8,685.2 619.5,685.2 620.2,685.2 620.8,685.2 621.5,685.2 622.2,685.2 622.8,685.2 623.5,685.2 624.2,685.2 624.8,685.2 625.5,685.2 626.1,685.2 626.8,685.2 627.5,685.2 628.1,685.2 628.8,685.2 629.5,685.2 630.1,685.2 630.8,685.2 631.5,685.2 632.1,685.2 632.8,685.2 633.5,685.2 634.1,685.2 634.8,685.2 635.5,685.2 636.1,685.2 636.8,685.2 637.5,685.2 638.1,685.2 638.8,685.2 639.4,685.2 640.1,685.2 640.8,685.2 641.4,685.2 642.1,685.2 642.8,685.2 643.4,685.2 644.1,685.2 644.8,685.2 645.4,685.2 646.1,685.2 646.8,685.2 647.4,685.2 648.1,685.2 648.8,685.2 649.4,685.2 650.1,685.2 650.8,685.2 651.4,685.2 652.1,685.2 652.7,685.2 653.4,685.2 654.1,685.2 654.7,685.2 655.4,685.2 656.1,685.2 656.7,685.2 657.4,685.2 658.1,685.2 658.7,685.2 659.4,685.2 660.1,685.2 660.7,685.2 661.4,685.2 662.1,685.2 662.7,685.2 663.4,685.2 664.1,685.2 664.7,685.2 665.4,685.2 666.1,685.2 666.7,685.2 667.4,685.2 668.0,685.2 668.7,685.2 669.4,685.2 670.0,685.2 670.7,685.2 671.4,685.2 672.0,685.2 672.7,685.2 673.4,685.1 674.0,685.1 674.7,685.1 675.4,685.1 676.0,685.1 676.7,685.1 677.4,685.1 678.0,685.0 678.7,685.0 679.4,685.0 680.0,684.9 680.7,684.9 681.3,684.9 682.0,684.8 682.7,684.8 683.3,684.7 684.0,684.6 684.7,684.6 685.3,684.5 686.0,684.4 686.7,684.3 687.3,684.2 688.0,684.0 688.7,683.9 689.3,683.8 690.0,683.6 690.7,683.4 691.3,683.2 692.0,683.0 692.7,682.7 693.3,682.5 694.0,682.2 694.7,681.8 695.3,681.5 696.0,681.1 696.6,680.7 697.3,680.2 698.0,679.7 698.6,679.2 699.3,678.6 700.0,677.9 700.6,677.3 701.3,676.5 702.0,675.7 702.6,674.8 703.3,673.9 704.0,672.9 704.6,671.8 705.3,670.6 706.0,669.4 706.6,668.0 707.3,666.6 708.0,665.1 708.6,663.5 709.3,661.7 709.9,659.9 710.6,657.9 711.3,655.8 711.9,653.6 712.6,651.3 713.3,648.8 713.9,646.2 714.6,643.4 715.3,640.5 715.9,637.4 716.6,634.2 717.3,630.8 717.9,627.3 718.6,623.6 719.3,619.8 719.9,615.7 720.6,611.5 721.3,607.1 721.9,602.6 722.6,597.9 723.2,593.0 723.9,588.0 724.6,582.7 725.2,577.3 725.9,571.8 726.6,566.1 727.2,560.2 727.9,554.2 728.6,548.1 729.2,541.8 729.9,535.4 730.6,528.8 731.2,522.2 731.9,515.5 732.6,508.6 733.2,501.7 733.9,494.7 734.6,487.7 735.2,480.6 735.9,473.5 736.6,466.4 737.2,459.3 737.9,452.2 738.5,445.1 739.2,438.1 739.9,431.1 740.5,424.2 741.2,417.5 741.9,410.8 742.5,404.3 743.2,397.9 743.9,391.7 744.5,385.7 745.2,379.9 745.9,374.3 746.5,369.0 747.2,363.9 747.9,359.1 748.5,354.5 749.2,350.2 749.9,346.3 750.5,342.6 751.2,339.3 751.8,336.4 752.5,333.8 753.2,331.5 753.8,329.6 754.5,328.1 755.2,326.9 755.8,326.2 756.5,325.8 757.2,325.9 757.8,327.2 758.5,329.8 759.2,333.7 759.8,338.8 760.5,345.1 761.2,352.5 761.8,360.9 762.5,370.3 763.2,380.5 763.8,391.5 764.5,403.1 765.2,415.2 765.8,427.8 766.5,440.6 767.1,453.7 767.8,466.9 768.5,480.1 769.1,493.2 769.8,506.1 770.5,518.7 771.1,531.1 771.8,543.0 772.5,554.5 773.1,565.5 773.8,576.0 774.5,585.9 775.1,595.2 775.8,604.0 776.5,612.2 777.1,619.8 777.8,626.8 778.5,633.3 779.1,639.2 779.8,644.6 780.4,649.5 781.1,653.9 781.8,657.9 782.4,661.4 783.1,664.6 783.8,667.4 784.4,669.9 785.1,672.1 785.8,674.0 786.4,675.7 787.1,677.1 787.8,678.4 788.4,679.5 789.1,680.4 789.8,681.2 790.4,681.9 791.1,682.4 791.8,682.9 792.4,683.3 793.1,683.7 793.7,684.0 794.4,684.2 795.1,684.4 795.7,684.5 796.4,684.7 797.1,684.8 797.7,684.9 798.4,684.9 799.1,685.0 799.7,685.1 800.4,685.1 801.1,685.1 801.7,685.1 802.4,685.2 803.1,685.2 803.7,685.2 804.4,685.2 805.1,685.2 805.7,685.2 806.4,685.2 807.1,685.2 807.7,685.2 808.4,685.2 809.0,685.2 809.7,685.2 810.4,685.2 811.0,685.2 811.7,685.2 812.4,685.2 813.0,685.2 813.7,685.2 814.4,685.2 815.0,685.2 815.7,685.2 816.4,685.2 817.0,685.2 817.7,685.2 818.4,685.2 819.0,685.2 819.7,685.2 820.4,685.2 821.0,685.2 821.7,685.2 822.3,685.2 823.0,685.2 823.7,685.2 824.3,685.2 825.0,685.2 825.7,685.2 826.3,685.2 827.0,685.2 827.7,685.2 828.3,685.2 829.0,685.2 829.7,685.2 830.3,685.2 831.0,685.2 831.7,685.2 832.3,685.2 833.0,685.2 833.7,685.2 834.3,685.2 835.0,685.2 835.7,685.2 836.3,685.2 837.0,685.2 837.6,685.2 838.3,685.2 839.0,685.2 839.6,685.2 840.3,685.2 841.0,685.2 841.6,685.2 842.3,685.2 843.0,685.2 843.6,685.1 844.3,685.1 845.0,685.1 845.6,685.0 846.3,685.0 847.0,684.9 847.6,684.8 848.3,684.7 849.0,684.5 849.6,684.3 850.3,684.0 850.9,683.7 851.6,683.3 852.3,682.8 852.9,682.2 853.6,681.5 854.3,680.6 854.9,679.6 855.6,678.3 856.3,676.9 856.9,675.1 857.6,673.1 858.3,670.7 858.9,667.9 859.6,664.8 860.3,661.1 860.9,657.0 861.6,652.4 862.3,647.2 862.9,641.5 863.6,635.1 864.2,628.1 864.9,620.5 865.6,612.3 866.2,603.5 866.9,594.1 867.6,584.1 868.2,573.7 868.9,562.9 869.6,551.7 870.2,540.4 870.9,528.9 871.6,517.3 872.2,506.0 872.9,494.8 873.6,484.1 874.2,473.9 874.9,464.4 875.6,455.7 876.2,448.0 876.9,441.3 877.6,435.8 878.2,431.5 878.9,428.5 879.5,427.0 880.2,426.8 880.9,428.7 881.5,432.9 882.2,439.1 882.9,447.2 883.5,457.1 884.2,468.5 884.9,481.1 885.5,494.7 886.2,508.9 886.9,523.5 887.5,538.1 888.2,552.6 888.9,566.7 889.5,580.2 890.2,593.0 890.9,605.0 891.5,616.0 892.2,626.0 892.8,635.0 893.5,643.0 894.2,650.1 894.8,656.2 895.5,661.4 896.2,665.9 896.8,669.7 897.5,672.8 898.2,675.4 898.8,677.6 899.5,679.3 900.2,680.6 900.8,681.7 901.5,682.6 902.2,683.2 902.8,683.7 903.5,684.1 904.2,684.4 904.8,684.6 905.5,684.8 906.2,684.9 906.8,685.0 907.5,685.1 908.1,685.1 908.8,685.2 909.5,685.2 910.1,685.2 910.8,685.2 911.5,685.2 912.1,685.2 912.8,685.2 913.5,685.2 914.1,685.2 914.8,685.2 915.5,685.2 916.1,685.2 916.8,685.2 917.5,685.2 918.1,685.2 918.8,685.2 919.5,685.2 920.1,685.2 920.8,685.2 921.4,685.2 922.1,685.2 922.8,685.2 923.4,685.2 924.1,685.2 924.8,685.2 925.4,685.2 926.1,685.2 926.8,685.2 927.4,685.2 928.1,685.2 928.8,685.2 929.4,685.2 930.1,685.2 930.8,685.2 931.4,685.2 932.1,685.2 932.8,685.2 933.4,685.2 934.1,685.2 934.7,685.2 935.4,685.2 936.1,685.2 936.7,685.2 937.4,685.2 938.1,685.2 938.7,685.2 939.4,685.2 940.1,685.2 940.7,685.2 941.4,685.2 942.1,685.2 942.7,685.2 943.4,685.2 944.1,685.2 944.7,685.2 945.4,685.2 946.1,685.2 946.7,685.2 947.4,685.2 948.1,685.2 948.7,685.2 949.4,685.2 950.0,685.2 950.7,685.2 951.4,685.2 952.0,685.2 952.7,685.2 953.4,685.2 954.0,685.2 954.7,685.2 955.4,685.2 956.0,685.2 956.7,685.2 957.4,685.2 958.0,685.2 958.7,685.2 959.4,685.2 960.0,685.2 960.7,685.2 961.4,685.2 962.0,685.2 962.7,685.2 963.3,685.2 964.0,685.2 964.7,685.2 965.3,685.2 966.0,685.2 966.7,685.2 967.3,685.2 968.0,685.2 968.7,685.2 969.3,685.2 970.0,685.2 970.7,685.2 971.3,685.2 972.0,685.2 972.7,685.2 973.3,685.2 974.0,685.2 974.7,685.2 975.3,685.2" fill="none" stroke="#ff0000" stroke-width="3.2" stroke-linejoin="round"/>
<polyline points="377.4,644.8 378.1,645.6 378.7,646.4 379.4,647.0 380.1,647.6 380.7,648.1 381.4,648.6 382.1,649.0 382.7,649.3 383.4,649.7 384.1,650.0 384.7,650.2 385.4,650.4 386.0,650.6 386.7,650.7 387.4,650.8 388.0,650.9 388.7,651.0 389.4,651.0 390.0,650.9 390.7,650.8 391.4,650.7 392.0,650.5 392.7,650.3 393.4,650.0 394.0,649.6 394.7,649.1 395.4,648.6 396.0,647.9 396.7,647.2 397.4,646.3 398.0,645.3 398.7,644.1 399.3,642.8 400.0,641.3 400.7,639.6 401.3,637.7 402.0,635.6 402.7,633.2 403.3,630.5 404.0,627.6 404.7,624.3 405.3,620.8 406.0,616.8 406.7,612.6 407.3,607.9 408.0,602.9 408.7,597.5 409.3,591.7 410.0,585.5 410.7,578.9 411.3,571.9 412.0,564.5 412.7,556.8 413.3,548.7 414.0,540.2 414.6,531.4 415.3,522.4 416.0,513.1 416.6,503.6 417.3,494.0 418.0,484.3 418.6,474.5 419.3,464.8 420.0,455.1 420.6,445.7 421.3,436.6 422.0,427.8 422.6,419.5 423.3,411.6 424.0,404.3 424.6,397.6 425.3,391.5 426.0,386.2 426.6,381.7 427.3,377.9 427.9,375.0 428.6,373.0 429.3,371.9 429.9,371.7 430.6,372.4 431.3,374.5 431.9,377.9 432.6,382.6 433.3,388.6 433.9,395.8 434.6,404.1 435.3,413.4 435.9,423.6 436.6,434.6 437.3,446.3 437.9,458.5 438.6,471.0 439.3,483.9 439.9,496.8 440.6,509.8 441.2,522.7 441.9,535.3 442.6,547.7 443.2,559.6 443.9,571.1 444.6,582.1 445.2,592.5 445.9,602.2 446.6,611.4 447.2,619.8 447.9,627.6 448.6,634.7 449.2,641.2 449.9,647.0 450.6,652.3 451.2,656.9 451.9,660.9 452.6,664.5 453.2,667.6 453.9,670.3 454.6,672.7 455.2,674.8 455.9,676.6 456.5,678.1 457.2,679.4 457.9,680.5 458.5,681.5 459.2,682.3 459.9,682.9 460.5,683.5 461.2,683.9 461.9,684.3 462.5,684.6 463.2,684.8 463.9,685.0 464.5,685.2 465.2,685.3 465.9,685.4 466.5,685.5 467.2,685.6 467.9,685.6 468.5,685.6 469.2,685.7 469.8,685.7 470.5,685.7 471.2,685.7 471.8,685.7 472.5,685.7 473.2,685.8 473.8,685.8 474.5,685.8 475.2,685.8 475.8,685.8 476.5,685.8 477.2,685.8 477.8,685.8 478.5,685.8 479.2,685.8 479.8,685.8 480.5,685.8 481.2,685.8 481.8,685.8 482.5,685.8 483.2,685.8 483.8,685.8 484.5,685.8 485.1,685.8 485.8,685.8 486.5,685.8 487.1,685.8 487.8,685.8 488.5,685.8 489.1,685.8 489.8,685.8 490.5,685.8 491.1,685.8 491.8,685.7 492.5,685.7 493.1,685.7 493.8,685.7 494.5,685.7 495.1,685.7 495.8,685.7 496.5,685.7 497.1,685.7 497.8,685.6 498.4,685.6 499.1,685.6 499.8,685.6 500.4,685.5 501.1,685.5 501.8,685.4 502.4,685.4 503.1,685.3 503.8,685.3 504.4,685.2 505.1,685.1 505.8,685.0 506.4,684.9 507.1,684.7 507.8,684.6 508.4,684.4 509.1,684.2 509.8,683.9 510.4,683.7 511.1,683.4 511.7,683.1 512.4,682.7 513.1,682.3 513.7,681.8 514.4,681.3 515.1,680.7 515.7,680.1 516.4,679.4 517.1,678.6 517.7,677.7 518.4,676.7 519.1,675.7 519.7,674.5 520.4,673.2 521.1,671.8 521.7,670.3 522.4,668.6 523.1,666.8 523.7,664.8 524.4,662.7 525.1,660.4 525.7,657.9 526.4,655.2 527.0,652.3 527.7,649.2 528.4,645.9 529.0,642.3 529.7,638.5 530.4,634.5 531.0,630.2 531.7,625.6 532.4,620.8 533.0,615.7 533.7,610.4 534.4,604.7 535.0,598.8 535.7,592.7 536.4,586.2 537.0,579.5 537.7,572.6 538.4,565.4 539.0,557.9 539.7,550.2 540.3,542.3 541.0,534.2 541.7,525.9 542.3,517.4 543.0,508.8 543.7,500.1 544.3,491.3 545.0,482.3 545.7,473.4 546.3,464.4 547.0,455.4 547.7,446.5 548.3,437.6 549.0,428.9 549.7,420.3 550.3,411.8 551.0,403.6 551.7,395.6 552.3,387.9 553.0,380.5 553.7,373.5 554.3,366.8 555.0,360.6 555.6,354.8 556.3,349.4 557.0,344.6 557.6,340.2 558.3,336.4 559.0,333.2 559.6,330.5 560.3,328.4 561.0,326.9 561.6,326.0 562.3,325.7 563.0,328.0 563.6,334.4 564.3,344.7 565.0,358.6 565.6,375.6 566.3,395.1 567.0,416.5 567.6,439.3 568.3,462.8 568.9,486.4 569.6,509.6 570.3,531.9 570.9,552.9 571.6,572.5 572.3,590.2 572.9,606.1 573.6,620.2 574.3,632.4 574.9,642.8 575.6,651.6 576.3,658.9 576.9,664.9 577.6,669.8 578.3,673.6 578.9,676.7 579.6,679.0 580.3,680.8 580.9,682.2 581.6,683.2 582.2,684.0 582.9,684.5 583.6,684.9 584.2,685.2 584.9,685.4 585.6,685.5 586.2,685.6 586.9,685.7 587.6,685.7 588.2,685.7 588.9,685.7 589.6,685.8 590.2,685.8 590.9,685.8 591.6,685.8 592.2,685.8 592.9,685.8 593.6,685.8 594.2,685.8 594.9,685.8 595.6,685.8 596.2,685.8 596.9,685.8 597.5,685.8 598.2,685.8 598.9,685.8 599.5,685.8 600.2,685.8 600.9,685.8 601.5,685.8 602.2,685.8 602.9,685.8 603.5,685.8 604.2,685.8 604.9,685.8 605.5,685.8 606.2,685.8 606.9,685.8 607.5,685.8 608.2,685.8 608.9,685.8 609.5,685.8 610.2,685.8 610.8,685.8 611.5,685.8 612.2,685.8 612.8,685.8 613.5,685.8 614.2,685.8 614.8,685.8 615.5,685.8 616.2,685.8 616.8,685.8 617.5,685.8 618.2,685.8 618.8,685.8 619.5,685.8 620.2,685.8 620.8,685.8 621.5,685.8 622.2,685.8 622.8,685.8 623.5,685.8 624.2,685.8 624.8,685.8 625.5,685.8 626.1,685.8 626.8,685.8 627.5,685.8 628.1,685.8 628.8,685.8 629.5,685.8 630.1,685.8 630.8,685.8 631.5,685.8 632.1,685.8 632.8,685.8 633.5,685.8 634.1,685.8 634.8,685.8 635.5,685.8 636.1,685.8 636.8,685.8 637.5,685.8 638.1,685.8 638.8,685.8 639.4,685.8 640.1,685.8 640.8,685.8 641.4,685.8 642.1,685.8 642.8,685.8 643.4,685.8 644.1,685.8 644.8,685.8 645.4,685.8 646.1,685.8 646.8,685.8 647.4,685.8 648.1,685.8 648.8,685.8 649.4,685.8 650.1,685.8 650.8,685.8 651.4,685.8 652.1,685.8 652.7,685.8 653.4,685.8 654.1,685.8 654.7,685.8 655.4,685.8 656.1,685.8 656.7,685.8 657.4,685.8 658.1,685.8 658.7,685.8 659.4,685.8 660.1,685.8 660.7,685.8 661.4,685.8 662.1,685.8 662.7,685.8 663.4,685.8 664.1,685.8 664.7,685.8 665.4,685.8 666.1,685.8 666.7,685.8 667.4,685.8 668.0,685.8 668.7,685.8 669.4,685.8 670.0,685.8 670.7,685.7 671.4,685.7 672.0,685.7 672.7,685.7 673.4,685.7 674.0,685.7 674.7,685.7 675.4,685.7 676.0,685.7 676.7,685.7 677.4,685.7 678.0,685.7 678.7,685.7 679.4,685.6 680.0,685.6 680.7,685.6 681.3,685.6 682.0,685.5 682.7,685.5 683.3,685.5 684.0,685.4 684.7,685.4 685.3,685.3 686.0,685.3 686.7,685.2 687.3,685.2 688.0,685.1 688.7,685.0 689.3,684.9 690.0,684.8 690.7,684.7 691.3,684.6 692.0,684.4 692.7,684.3 693.3,684.1 694.0,683.9 694.7,683.7 695.3,683.5 696.0,683.3 696.6,683.0 697.3,682.7 698.0,682.4 698.6,682.0 699.3,681.6 700.0,681.2 700.6,680.7 701.3,680.2 702.0,679.7 702.6,679.1 703.3,678.4 704.0,677.8 704.6,677.0 705.3,676.2 706.0,675.3 706.6,674.4 707.3,673.4 708.0,672.3 708.6,671.1 709.3,669.8 709.9,668.5 710.6,667.1 711.3,665.5 711.9,663.9 712.6,662.2 713.3,660.3 713.9,658.3 714.6,656.2 715.3,654.0 715.9,651.7 716.6,649.2 717.3,646.6 717.9,643.8 718.6,640.9 719.3,637.8 719.9,634.6 720.6,631.2 721.3,627.7 721.9,624.0 722.6,620.1 723.2,616.1 723.9,611.9 724.6,607.5 725.2,603.0 725.9,598.3 726.6,593.4 727.2,588.4 727.9,583.2 728.6,577.8 729.2,572.2 729.9,566.6 730.6,560.7 731.2,554.7 731.9,548.6 732.6,542.3 733.2,535.9 733.9,529.4 734.6,522.8 735.2,516.1 735.9,509.3 736.6,502.4 737.2,495.4 737.9,488.4 738.5,481.4 739.2,474.3 739.9,467.3 740.5,460.2 741.2,453.1 741.9,446.1 742.5,439.1 743.2,432.2 743.9,425.4 744.5,418.7 745.2,412.1 745.9,405.7 746.5,399.4 747.2,393.2 747.9,387.3 748.5,381.5 749.2,376.0 749.9,370.7 750.5,365.7 751.2,360.9 751.8,356.4 752.5,352.2 753.2,348.4 753.8,344.8 754.5,341.5 755.2,338.6 755.8,336.1 756.5,333.9 757.2,332.1 757.8,330.6 758.5,329.5 759.2,328.8 759.8,328.5 760.5,328.7 761.2,330.2 761.8,333.0 762.5,337.0 763.2,342.3 763.8,348.7 764.5,356.2 765.2,364.7 765.8,374.1 766.5,384.4 767.1,395.4 767.8,407.0 768.5,419.1 769.1,431.7 769.8,444.5 770.5,457.5 771.1,470.6 771.8,483.7 772.5,496.7 773.1,509.5 773.8,522.0 774.5,534.2 775.1,546.0 775.8,557.4 776.5,568.3 777.1,578.6 777.8,588.4 778.5,597.6 779.1,606.2 779.8,614.3 780.4,621.8 781.1,628.7 781.8,635.0 782.4,640.8 783.1,646.1 783.8,650.9 784.4,655.2 785.1,659.1 785.8,662.6 786.4,665.7 787.1,668.4 787.8,670.9 788.4,673.0 789.1,674.9 789.8,676.5 790.4,677.9 791.1,679.1 791.8,680.2 792.4,681.1 793.1,681.9 793.7,682.5 794.4,683.1 795.1,683.5 795.7,683.9 796.4,684.3 797.1,684.5 797.7,684.8 798.4,685.0 799.1,685.1 799.7,685.2 800.4,685.3 801.1,685.4 801.7,685.5 802.4,685.6 803.1,685.6 803.7,685.6 804.4,685.7 805.1,685.7 805.7,685.7 806.4,685.7 807.1,685.7 807.7,685.7 808.4,685.7 809.0,685.8 809.7,685.8 810.4,685.8 811.0,685.8 811.7,685.8 812.4,685.8 813.0,685.8 813.7,685.8 814.4,685.8 815.0,685.8 815.7,685.8 816.4,685.8 817.0,685.8 817.7,685.8 818.4,685.8 819.0,685.8 819.7,685.8 820.4,685.8 821.0,685.8 821.7,685.8 822.3,685.8 823.0,685.8 823.7,685.8 824.3,685.8 825.0,685.8 825.7,685.8 826.3,685.8 827.0,685.8 827.7,685.8 828.3,685.8 829.0,685.8 829.7,685.8 830.3,685.8 831.0,685.8 831.7,685.8 832.3,685.8 833.0,685.8 833.7,685.8 834.3,685.8 835.0,685.8 835.7,685.8 836.3,685.8 837.0,685.8 837.6,685.8 838.3,685.8 839.0,685.8 839.6,685.8 840.3,685.8 841.0,685.7 841.6,685.7 842.3,685.7 843.0,685.7 843.6,685.7 844.3,685.7 845.0,685.6 845.6,685.6 846.3,685.5 847.0,685.4 847.6,685.3 848.3,685.2 849.0,685.1 849.6,684.8 850.3,684.6 850.9,684.3 851.6,683.9 852.3,683.4 852.9,682.8 853.6,682.1 854.3,681.2 854.9,680.2 855.6,679.0 856.3,677.5 856.9,675.7 857.6,673.7 858.3,671.4 858.9,668.6 859.6,665.5 860.3,661.9 860.9,657.8 861.6,653.2 862.3,648.1 862.9,642.4 863.6,636.1 864.2,629.1 864.9,621.6 865.6,613.4 866.2,604.7 866.9,595.4 867.6,585.5 868.2,575.2 868.9,564.5 869.6,553.4 870.2,542.1 870.9,530.7 871.6,519.3 872.2,508.0 872.9,497.0 873.6,486.4 874.2,476.3 874.9,466.8 875.6,458.2 876.2,450.5 876.9,443.9 877.6,438.4 878.2,434.2 878.9,431.3 879.5,429.7 880.2,429.5 880.9,431.4 881.5,435.5 882.2,441.7 882.9,449.8 883.5,459.6 884.2,470.9 884.9,483.4 885.5,496.8 886.2,510.9 886.9,525.4 887.5,539.9 888.2,554.3 888.9,568.3 889.5,581.7 890.2,594.4 890.9,606.2 891.5,617.1 892.2,627.0 892.8,636.0 893.5,643.9 894.2,650.9 894.8,657.0 895.5,662.2 896.2,666.6 896.8,670.4 897.5,673.5 898.2,676.1 898.8,678.2 899.5,679.9 900.2,681.2 900.8,682.3 901.5,683.1 902.2,683.8 902.8,684.3 903.5,684.7 904.2,685.0 904.8,685.2 905.5,685.4 906.2,685.5 906.8,685.6 907.5,685.6 908.1,685.7 908.8,685.7 909.5,685.7 910.1,685.7 910.8,685.8 911.5,685.8 912.1,685.8 912.8,685.8 913.5,685.8 914.1,685.8 914.8,685.8 915.5,685.8 916.1,685.8 916.8,685.8 917.5,685.8 918.1,685.8 918.8,685.8 919.5,685.8 920.1,685.8 920.8,685.8 921.4,685.8 922.1,685.8 922.8,685.8 923.4,685.8 924.1,685.8 924.8,685.8 925.4,685.8 926.1,685.8 926.8,685.8 927.4,685.8 928.1,685.8 928.8,685.8 929.4,685.8 930.1,685.8 930.8,685.8 931.4,685.8 932.1,685.8 932.8,685.8 933.4,685.8 934.1,685.8 934.7,685.8 935.4,685.8 936.1,685.8 936.7,685.8 937.4,685.8 938.1,685.8 938.7,685.8 939.4,685.8 940.1,685.8 940.7,685.8 941.4,685.8 942.1,685.8 942.7,685.8 943.4,685.8 944.1,685.8 944.7,685.8 945.4,685.8 946.1,685.8 946.7,685.8 947.4,685.8 948.1,685.8 948.7,685.8 949.4,685.8 950.0,685.8 950.7,685.8 951.4,685.8 952.0,685.8 952.7,685.8 953.4,685.8 954.0,685.8 954.7,685.8 955.4,685.8 956.0,685.8 956.7,685.8 957.4,685.8 958.0,685.8 958.7,685.8 959.4,685.8 960.0,685.8 960.7,685.8 961.4,685.8 962.0,685.8 962.7,685.8 963.3,685.8 964.0,685.8 964.7,685.8 965.3,685.8 966.0,685.8 966.7,685.8 967.3,685.8 968.0,685.8 968.7,685.8 969.3,685.8 970.0,685.8 970.7,685.8 971.3,685.8 972.0,685.8 972.7,685.8 973.3,685.8 974.0,685.8 974.7,685.8 975.3,685.8" fill="none" stroke="#8000ff" stroke-width="3.2" stroke-linejoin="round"/>
<polyline points="377.4,655.8 378.1,656.6 378.7,657.3 379.4,657.9 380.1,658.5 380.7,659.0 381.4,659.5 382.1,659.9 382.7,660.3 383.4,660.6 384.1,660.9 384.7,661.2 385.4,661.4 386.0,661.6 386.7,661.8 387.4,662.0 388.0,662.1 388.7,662.1 389.4,662.2 390.0,662.2 390.7,662.2 391.4,662.2 392.0,662.1 392.7,662.0 393.4,661.8 394.0,661.6 394.7,661.3 395.4,661.0 396.0,660.5 396.7,660.1 397.4,659.5 398.0,658.8 398.7,658.0 399.3,657.1 400.0,656.0 400.7,654.8 401.3,653.4 402.0,651.9 402.7,650.1 403.3,648.1 404.0,645.9 404.7,643.4 405.3,640.7 406.0,637.6 406.7,634.3 407.3,630.6 408.0,626.5 408.7,622.1 409.3,617.4 410.0,612.2 410.7,606.6 411.3,600.6 412.0,594.2 412.7,587.4 413.3,580.2 414.0,572.6 414.6,564.7 415.3,556.3 416.0,547.6 416.6,538.6 417.3,529.3 418.0,519.8 418.6,510.1 419.3,500.2 420.0,490.3 420.6,480.3 421.3,470.5 422.0,460.7 422.6,451.2 423.3,442.0 424.0,433.0 424.6,424.5 425.3,416.5 426.0,409.0 426.6,402.1 427.3,395.8 427.9,390.3 428.6,385.6 429.3,381.6 429.9,378.5 430.6,376.3 431.3,375.0 431.9,374.6 432.6,375.2 433.3,376.7 433.9,379.2 434.6,382.6 435.3,386.9 435.9,392.2 436.6,398.2 437.3,405.1 437.9,412.7 438.6,420.9 439.3,429.7 439.9,439.0 440.6,448.8 441.2,458.9 441.9,469.3 442.6,479.9 443.2,490.7 443.9,501.5 444.6,512.2 445.2,522.9 445.9,533.4 446.6,543.7 447.2,553.8 447.9,563.5 448.6,572.9 449.2,581.9 449.9,590.4 450.6,598.6 451.2,606.2 451.9,613.4 452.6,620.1 453.2,626.4 453.9,632.3 454.6,637.8 455.2,642.8 455.9,647.4 456.5,651.7 457.2,655.5 457.9,659.1 458.5,662.2 459.2,665.1 459.9,667.7 460.5,670.0 461.2,672.1 461.9,673.9 462.5,675.5 463.2,677.0 463.9,678.2 464.5,679.3 465.2,680.3 465.9,681.1 466.5,681.8 467.2,682.4 467.9,683.0 468.5,683.4 469.2,683.8 469.8,684.1 470.5,684.4 471.2,684.6 471.8,684.8 472.5,685.0 473.2,685.1 473.8,685.3 474.5,685.4 475.2,685.4 475.8,685.5 476.5,685.6 477.2,685.6 477.8,685.6 478.5,685.7 479.2,685.7 479.8,685.7 480.5,685.7 481.2,685.7 481.8,685.7 482.5,685.7 483.2,685.7 483.8,685.8 484.5,685.8 485.1,685.8 485.8,685.8 486.5,685.8 487.1,685.8 487.8,685.8 488.5,685.8 489.1,685.8 489.8,685.8 490.5,685.8 491.1,685.8 491.8,685.8 492.5,685.7 493.1,685.7 493.8,685.7 494.5,685.7 495.1,685.7 495.8,685.7 496.5,685.7 497.1,685.7 497.8,685.7 498.4,685.7 499.1,685.6 499.8,685.6 500.4,685.6 501.1,685.6 501.8,685.5 502.4,685.5 503.1,685.4 503.8,685.4 504.4,685.3 505.1,685.2 505.8,685.1 506.4,685.0 507.1,684.9 507.8,684.8 508.4,684.6 509.1,684.5 509.8,684.3 510.4,684.0 511.1,683.8 511.7,683.5 512.4,683.2 513.1,682.9 513.7,682.5 514.4,682.0 515.1,681.5 515.7,681.0 516.4,680.4 517.1,679.7 517.7,678.9 518.4,678.1 519.1,677.2 519.7,676.2 520.4,675.1 521.1,673.8 521.7,672.5 522.4,671.0 523.1,669.4 523.7,667.7 524.4,665.8 525.1,663.7 525.7,661.5 526.4,659.1 527.0,656.5 527.7,653.7 528.4,650.6 529.0,647.4 529.7,644.0 530.4,640.3 531.0,636.3 531.7,632.2 532.4,627.7 533.0,623.0 533.7,618.1 534.4,612.8 535.0,607.3 535.7,601.6 536.4,595.5 537.0,589.2 537.7,582.6 538.4,575.8 539.0,568.7 539.7,561.3 540.3,553.8 541.0,546.0 541.7,537.9 542.3,529.7 543.0,521.3 543.7,512.8 544.3,504.1 545.0,495.3 545.7,486.4 546.3,477.5 547.0,468.5 547.7,459.5 548.3,450.6 549.0,441.7 549.7,432.9 550.3,424.2 551.0,415.7 551.7,407.3 552.3,399.2 553.0,391.4 553.7,383.9 554.3,376.7 555.0,369.8 555.6,363.4 556.3,357.4 557.0,351.8 557.6,346.7 558.3,342.1 559.0,338.1 559.6,334.6 560.3,331.6 561.0,329.3 561.6,327.5 562.3,326.4 563.0,325.8 563.6,326.5 564.3,331.0 565.0,339.5 565.6,351.8 566.3,367.4 567.0,385.9 567.6,406.5 568.3,428.8 568.9,452.0 569.6,475.6 570.3,499.1 570.9,521.8 571.6,543.5 572.3,563.7 572.9,582.3 573.6,599.1 574.3,614.0 574.9,627.0 575.6,638.3 576.3,647.8 576.9,655.8 577.6,662.3 578.3,667.7 578.9,672.0 579.6,675.4 580.3,678.0 580.9,680.1 581.6,681.6 582.2,682.8 582.9,683.6 583.6,684.3 584.2,684.7 584.9,685.1 585.6,685.3 586.2,685.4 586.9,685.6 587.6,685.6 588.2,685.7 588.9,685.7 589.6,685.7 590.2,685.7 590.9,685.8 591.6,685.8 592.2,685.8 592.9,685.8 593.6,685.8 594.2,685.8 594.9,685.8 595.6,685.8 596.2,685.8 596.9,685.8 597.5,685.8 598.2,685.8 598.9,685.8 599.5,685.8 600.2,685.8 600.9,685.8 601.5,685.8 602.2,685.8 602.9,685.8 603.5,685.8 604.2,685.8 604.9,685.8 605.5,685.8 606.2,685.8 606.9,685.8 607.5,685.8 608.2,685.8 608.9,685.8 609.5,685.8 610.2,685.8 610.8,685.8 611.5,685.8 612.2,685.8 612.8,685.8 613.5,685.8 614.2,685.8 614.8,685.8 615.5,685.8 616.2,685.8 616.8,685.8 617.5,685.8 618.2,685.8 618.8,685.8 619.5,685.8 620.2,685.8 620.8,685.8 621.5,685.8 622.2,685.8 622.8,685.8 623.5,685.8 624.2,685.8 624.8,685.8 625.5,685.8 626.1,685.8 626.8,685.8 627.5,685.8 628.1,685.8 628.8,685.8 629.5,685.8 630.1,685.8 630.8,685.8 631.5,685.8 632.1,685.8 632.8,685.8 633.5,685.8 634.1,685.8 634.8,685.8 635.5,685.8 636.1,685.8 636.8,685.8 637.5,685.8 638.1,685.8 638.8,685.8 639.4,685.8 640.1,685.8 640.8,685.8 641.4,685.8 642.1,685.8 642.8,685.8 643.4,685.8 644.1,685.8 644.8,685.8 645.4,685.8 646.1,685.8 646.8,685.8 647.4,685.8 648.1,685.8 648.8,685.8 649.4,685.8 650.1,685.8 650.8,685.8 651.4,685.8 652.1,685.8 652.7,685.8 653.4,685.8 654.1,685.8 654.7,685.8 655.4,685.8 656.1,685.8 656.7,685.8 657.4,685.8 658.1,685.8 658.7,685.8 659.4,685.8 660.1,685.8 660.7,685.8 661.4,685.8 662.1,685.8 662.7,685.8 663.4,685.8 664.1,685.8 664.7,685.8 665.4,685.8 666.1,685.8 666.7,685.8 667.4,685.8 668.0,685.8 668.7,685.8 669.4,685.8 670.0,685.8 670.7,685.7 671.4,685.7 672.0,685.7 672.7,685.7 673.4,685.7 674.0,685.7 674.7,685.7 675.4,685.7 676.0,685.7 676.7,685.7 677.4,685.7 678.0,685.7 678.7,685.6 679.4,685.6 680.0,685.6 680.7,685.6 681.3,685.6 682.0,685.5 682.7,685.5 683.3,685.5 684.0,685.4 684.7,685.4 685.3,685.3 686.0,685.3 686.7,685.2 687.3,685.2 688.0,685.1 688.7,685.0 689.3,684.9 690.0,684.8 690.7,684.7 691.3,684.6 692.0,684.4 692.7,684.3 693.3,684.1 694.0,683.9 694.7,683.7 695.3,683.5 696.0,683.2 696.6,682.9 697.3,682.6 698.0,682.3 698.6,681.9 699.3,681.5 700.0,681.1 700.6,680.6 701.3,680.1 702.0,679.6 702.6,679.0 703.3,678.3 704.0,677.6 704.6,676.9 705.3,676.0 706.0,675.2 706.6,674.2 707.3,673.2 708.0,672.1 708.6,670.9 709.3,669.6 709.9,668.2 710.6,666.8 711.3,665.2 711.9,663.6 712.6,661.8 713.3,659.9 713.9,657.9 714.6,655.8 715.3,653.5 715.9,651.2 716.6,648.6 717.3,646.0 717.9,643.2 718.6,640.2 719.3,637.1 719.9,633.8 720.6,630.4 721.3,626.8 721.9,623.1 722.6,619.1 723.2,615.0 723.9,610.8 724.6,606.4 725.2,601.7 725.9,597.0 726.6,592.0 727.2,586.9 727.9,581.6 728.6,576.1 729.2,570.5 729.9,564.7 730.6,558.8 731.2,552.7 731.9,546.5 732.6,540.1 733.2,533.6 733.9,527.0 734.6,520.3 735.2,513.5 735.9,506.6 736.6,499.6 737.2,492.5 737.9,485.4 738.5,478.3 739.2,471.1 739.9,463.9 740.5,456.7 741.2,449.6 741.9,442.4 742.5,435.4 743.2,428.4 743.9,421.5 744.5,414.6 745.2,407.9 745.9,401.4 746.5,395.0 747.2,388.8 747.9,382.7 748.5,376.9 749.2,371.3 749.9,365.9 750.5,360.8 751.2,356.0 751.8,351.4 752.5,347.1 753.2,343.2 753.8,339.6 754.5,336.3 755.2,333.3 755.8,330.8 756.5,328.5 757.2,326.7 757.8,325.2 758.5,324.1 759.2,323.4 759.8,323.0 760.5,323.3 761.2,324.8 761.8,327.6 762.5,331.7 763.2,337.0 763.8,343.5 764.5,351.2 765.2,359.8 765.8,369.4 766.5,379.8 767.1,390.9 767.8,402.7 768.5,415.0 769.1,427.8 769.8,440.8 770.5,454.0 771.1,467.3 771.8,480.6 772.5,493.8 773.1,506.8 773.8,519.5 774.5,531.9 775.1,543.9 775.8,555.4 776.5,566.5 777.1,577.0 777.8,586.9 778.5,596.3 779.1,605.0 779.8,613.2 780.4,620.8 781.1,627.8 781.8,634.2 782.4,640.1 783.1,645.5 783.8,650.4 784.4,654.7 785.1,658.7 785.8,662.2 786.4,665.4 787.1,668.2 787.8,670.6 788.4,672.8 789.1,674.7 789.8,676.3 790.4,677.8 791.1,679.0 791.8,680.1 792.4,681.0 793.1,681.8 793.7,682.5 794.4,683.0 795.1,683.5 795.7,683.9 796.4,684.2 797.1,684.5 797.7,684.8 798.4,684.9 799.1,685.1 799.7,685.2 800.4,685.3 801.1,685.4 801.7,685.5 802.4,685.6 803.1,685.6 803.7,685.6 804.4,685.7 805.1,685.7 805.7,685.7 806.4,685.7 807.1,685.7 807.7,685.7 808.4,685.7 809.0,685.8 809.7,685.8 810.4,685.8 811.0,685.8 811.7,685.8 812.4,685.8 813.0,685.8 813.7,685.8 814.4,685.8 815.0,685.8 815.7,685.8 816.4,685.8 817.0,685.8 817.7,685.8 818.4,685.8 819.0,685.8 819.7,685.8 820.4,685.8 821.0,685.8 821.7,685.8 822.3,685.8 823.0,685.8 823.7,685.8 824.3,685.8 825.0,685.8 825.7,685.8 826.3,685.8 827.0,685.8 827.7,685.8 828.3,685.8 829.0,685.8 829.7,685.8 830.3,685.8 831.0,685.8 831.7,685.8 832.3,685.8 833.0,685.8 833.7,685.8 834.3,685.8 835.0,685.8 835.7,685.8 836.3,685.8 837.0,685.8 837.6,685.8 838.3,685.8 839.0,685.8 839.6,685.8 840.3,685.8 841.0,685.7 841.6,685.7 842.3,685.7 843.0,685.7 843.6,685.7 844.3,685.7 845.0,685.6 845.6,685.6 846.3,685.5 847.0,685.4 847.6,685.3 848.3,685.2 849.0,685.0 849.6,684.8 850.3,684.6 850.9,684.2 851.6,683.8 852.3,683.3 852.9,682.7 853.6,682.0 854.3,681.1 854.9,680.0 855.6,678.7 856.3,677.2 856.9,675.4 857.6,673.3 858.3,670.9 858.9,668.1 859.6,664.8 860.3,661.1 860.9,656.9 861.6,652.2 862.3,646.9 862.9,641.0 863.6,634.5 864.2,627.3 864.9,619.5 865.6,611.1 866.2,602.1 866.9,592.5 867.6,582.3 868.2,571.7 868.9,560.6 869.6,549.2 870.2,537.5 870.9,525.8 871.6,514.0 872.2,502.3 872.9,491.0 873.6,480.0 874.2,469.6 874.9,459.8 875.6,451.0 876.2,443.0 876.9,436.2 877.6,430.5 878.2,426.2 878.9,423.1 879.5,421.5 880.2,421.4 880.9,423.3 881.5,427.5 882.2,433.9 882.9,442.3 883.5,452.4 884.2,464.0 884.9,476.9 885.5,490.8 886.2,505.3 886.9,520.3 887.5,535.2 888.2,550.1 888.9,564.5 889.5,578.4 890.2,591.4 890.9,603.7 891.5,614.9 892.2,625.2 892.8,634.4 893.5,642.6 894.2,649.8 894.8,656.0 895.5,661.4 896.2,666.0 896.8,669.9 897.5,673.1 898.2,675.8 898.8,677.9 899.5,679.7 900.2,681.1 900.8,682.2 901.5,683.1 902.2,683.7 902.8,684.3 903.5,684.7 904.2,685.0 904.8,685.2 905.5,685.3 906.2,685.5 906.8,685.6 907.5,685.6 908.1,685.7 908.8,685.7 909.5,685.7 910.1,685.7 910.8,685.8 911.5,685.8 912.1,685.8 912.8,685.8 913.5,685.8 914.1,685.8 914.8,685.8 915.5,685.8 916.1,685.8 916.8,685.8 917.5,685.8 918.1,685.8 918.8,685.8 919.5,685.8 920.1,685.8 920.8,685.8 921.4,685.8 922.1,685.8 922.8,685.8 923.4,685.8 924.1,685.8 924.8,685.8 925.4,685.8 926.1,685.8 926.8,685.8 927.4,685.8 928.1,685.8 928.8,685.8 929.4,685.8 930.1,685.8 930.8,685.8 931.4,685.8 932.1,685.8 932.8,685.8 933.4,685.8 934.1,685.8 934.7,685.8 935.4,685.8 936.1,685.8 936.7,685.8 937.4,685.8 938.1,685.8 938.7,685.8 939.4,685.8 940.1,685.8 940.7,685.8 941.4,685.8 942.1,685.8 942.7,685.8 943.4,685.8 944.1,685.8 944.7,685.8 945.4,685.8 946.1,685.8 946.7,685.8 947.4,685.8 948.1,685.8 948.7,685.8 949.4,685.8 950.0,685.8 950.7,685.8 951.4,685.8 952.0,685.8 952.7,685.8 953.4,685.8 954.0,685.8 954.7,685.8 955.4,685.8 956.0,685.8 956.7,685.8 957.4,685.8 958.0,685.8 958.7,685.8 959.4,685.8 960.0,685.8 960.7,685.8 961.4,685.8 962.0,685.8 962.7,685.8 963.3,685.8 964.0,685.8 964.7,685.8 965.3,685.8 966.0,685.8 966.7,685.8 967.3,685.8 968.0,685.8 968.7,685.8 969.3,685.8 970.0,685.8 970.7,685.8 971.3,685.8 972.0,685.8 972.7,685.8 973.3,685.8 974.0,685.8 974.7,685.8 975.3,685.8" fill="none" stroke="#ff00ff" stroke-width="3.2" stroke-linejoin="round"/>
<polyline points="377.4,642.1 378.1,642.9 378.7,643.6 379.4,644.3 380.1,644.9 380.7,645.4 381.4,645.8 382.1,646.3 382.7,646.6 383.4,647.0 384.1,647.2 384.7,647.5 385.4,647.7 386.0,647.9 386.7,648.0 387.4,648.2 388.0,648.2 388.7,648.3 389.4,648.3 390.0,648.3 390.7,648.2 391.4,648.1 392.0,647.9 392.7,647.7 393.4,647.4 394.0,647.0 394.7,646.6 395.4,646.1 396.0,645.5 396.7,644.8 397.4,644.0 398.0,643.0 398.7,641.9 399.3,640.7 400.0,639.2 400.7,637.6 401.3,635.8 402.0,633.7 402.7,631.4 403.3,628.9 404.0,626.0 404.7,622.9 405.3,619.4 406.0,615.6 406.7,611.5 407.3,606.9 408.0,602.0 408.7,596.8 409.3,591.1 410.0,585.0 410.7,578.5 411.3,571.6 412.0,564.3 412.7,556.6 413.3,548.6 414.0,540.2 414.6,531.4 415.3,522.4 416.0,513.1 416.6,503.6 417.3,493.9 418.0,484.1 418.6,474.2 419.3,464.3 420.0,454.5 420.6,444.8 421.3,435.5 422.0,426.5 422.6,417.9 423.3,409.7 424.0,402.1 424.6,395.0 425.3,388.6 426.0,382.9 426.6,378.0 427.3,373.9 427.9,370.6 428.6,368.2 429.3,366.7 429.9,366.1 430.6,366.5 431.3,367.9 431.9,370.6 432.6,374.7 433.3,379.9 433.9,386.3 434.6,393.9 435.3,402.5 435.9,412.0 436.6,422.3 437.3,433.3 437.9,445.0 438.6,457.1 439.3,469.5 439.9,482.2 440.6,495.0 441.2,507.8 441.9,520.5 442.6,533.0 443.2,545.1 443.9,557.0 444.6,568.3 445.2,579.2 445.9,589.5 446.6,599.2 447.2,608.3 447.9,616.8 448.6,624.6 449.2,631.8 449.9,638.3 450.6,644.2 451.2,649.5 451.9,654.2 452.6,658.4 453.2,662.1 453.9,665.5 454.6,668.4 455.2,671.0 455.9,673.2 456.5,675.2 457.2,676.8 457.9,678.3 458.5,679.5 459.2,680.6 459.9,681.5 460.5,682.3 461.2,682.9 461.9,683.4 462.5,683.9 463.2,684.2 463.9,684.5 464.5,684.8 465.2,685.0 465.9,685.1 466.5,685.3 467.2,685.4 467.9,685.5 468.5,685.5 469.2,685.6 469.8,685.6 470.5,685.7 471.2,685.7 471.8,685.7 472.5,685.7 473.2,685.7 473.8,685.7 474.5,685.8 475.2,685.8 475.8,685.8 476.5,685.8 477.2,685.8 477.8,685.8 478.5,685.8 479.2,685.8 479.8,685.8 480.5,685.8 481.2,685.8 481.8,685.8 482.5,685.8 483.2,685.8 483.8,685.8 484.5,685.8 485.1,685.8 485.8,685.8 486.5,685.8 487.1,685.8 487.8,685.8 488.5,685.8 489.1,685.8 489.8,685.8 490.5,685.8 491.1,685.8 491.8,685.7 492.5,685.7 493.1,685.7 493.8,685.7 494.5,685.7 495.1,685.7 495.8,685.7 496.5,685.7 497.1,685.7 497.8,685.7 498.4,685.6 499.1,685.6 499.8,685.6 500.4,685.5 501.1,685.5 501.8,685.5 502.4,685.4 503.1,685.3 503.8,685.3 504.4,685.2 505.1,685.1 505.8,685.0 506.4,684.9 507.1,684.7 507.8,684.6 508.4,684.4 509.1,684.2 509.8,684.0 510.4,683.7 511.1,683.4 511.7,683.1 512.4,682.7 513.1,682.3 513.7,681.9 514.4,681.4 515.1,680.8 515.7,680.1 516.4,679.4 517.1,678.7 517.7,677.8 518.4,676.8 519.1,675.8 519.7,674.6 520.4,673.4 521.1,672.0 521.7,670.5 522.4,668.8 523.1,667.0 523.7,665.0 524.4,662.9 525.1,660.6 525.7,658.1 526.4,655.4 527.0,652.5 527.7,649.4 528.4,646.1 529.0,642.5 529.7,638.7 530.4,634.7 531.0,630.4 531.7,625.8 532.4,621.0 533.0,615.9 533.7,610.6 534.4,604.9 535.0,599.0 535.7,592.8 536.4,586.3 537.0,579.6 537.7,572.6 538.4,565.3 539.0,557.8 539.7,550.1 540.3,542.1 541.0,533.9 541.7,525.6 542.3,517.0 543.0,508.3 543.7,499.4 544.3,490.5 545.0,481.5 545.7,472.4 546.3,463.2 547.0,454.1 547.7,445.0 548.3,436.0 549.0,427.1 549.7,418.3 550.3,409.7 551.0,401.3 551.7,393.2 552.3,385.3 553.0,377.7 553.7,370.5 554.3,363.6 555.0,357.2 555.6,351.1 556.3,345.6 557.0,340.5 557.6,336.0 558.3,332.0 559.0,328.6 559.6,325.7 560.3,323.5 561.0,321.8 561.6,320.7 562.3,320.3 563.0,321.6 563.6,327.1 564.3,336.7 565.0,349.9 565.6,366.4 566.3,385.6 567.0,407.0 567.6,429.9 568.3,453.6 568.9,477.6 569.6,501.3 570.3,524.2 570.9,545.9 571.6,566.1 572.3,584.6 572.9,601.2 573.6,615.9 574.3,628.7 574.9,639.8 575.6,649.1 576.3,656.8 576.9,663.2 577.6,668.4 578.3,672.6 578.9,675.8 579.6,678.4 580.3,680.4 580.9,681.8 581.6,682.9 582.2,683.8 582.9,684.4 583.6,684.8 584.2,685.1 584.9,685.3 585.6,685.5 586.2,685.6 586.9,685.6 587.6,685.7 588.2,685.7 588.9,685.7 589.6,685.8 590.2,685.8 590.9,685.8 591.6,685.8 592.2,685.8 592.9,685.8 593.6,685.8 594.2,685.8 594.9,685.8 595.6,685.8 596.2,685.8 596.9,685.8 597.5,685.8 598.2,685.8 598.9,685.8 599.5,685.8 600.2,685.8 600.9,685.8 601.5,685.8 602.2,685.8 602.9,685.8 603.5,685.8 604.2,685.8 604.9,685.8 605.5,685.8 606.2,685.8 606.9,685.8 607.5,685.8 608.2,685.8 608.9,685.8 609.5,685.8 610.2,685.8 610.8,685.8 611.5,685.8 612.2,685.8 612.8,685.8 613.5,685.8 614.2,685.8 614.8,685.8 615.5,685.8 616.2,685.8 616.8,685.8 617.5,685.8 618.2,685.8 618.8,685.8 619.5,685.8 620.2,685.8 620.8,685.8 621.5,685.8 622.2,685.8 622.8,685.8 623.5,685.8 624.2,685.8 624.8,685.8 625.5,685.8 626.1,685.8 626.8,685.8 627.5,685.8 628.1,685.8 628.8,685.8 629.5,685.8 630.1,685.8 630.8,685.8 631.5,685.8 632.1,685.8 632.8,685.8 633.5,685.8 634.1,685.8 634.8,685.8 635.5,685.8 636.1,685.8 636.8,685.8 637.5,685.8 638.1,685.8 638.8,685.8 639.4,685.8 640.1,685.8 640.8,685.8 641.4,685.8 642.1,685.8 642.8,685.8 643.4,685.8 644.1,685.8 644.8,685.8 645.4,685.8 646.1,685.8 646.8,685.8 647.4,685.8 648.1,685.8 648.8,685.8 649.4,685.8 650.1,685.8 650.8,685.8 651.4,685.8 652.1,685.8 652.7,685.8 653.4,685.8 654.1,685.8 654.7,685.8 655.4,685.8 656.1,685.8 656.7,685.8 657.4,685.8 658.1,685.8 658.7,685.8 659.4,685.8 660.1,685.8 660.7,685.8 661.4,685.8 662.1,685.8 662.7,685.8 663.4,685.8 664.1,685.8 664.7,685.8 665.4,685.8 666.1,685.8 666.7,685.8 667.4,685.8 668.0,685.8 668.7,685.8 669.4,685.8 670.0,685.8 670.7,685.8 671.4,685.7 672.0,685.7 672.7,685.7 673.4,685.7 674.0,685.7 674.7,685.7 675.4,685.7 676.0,685.7 676.7,685.7 677.4,685.7 678.0,685.7 678.7,685.7 679.4,685.6 680.0,685.6 680.7,685.6 681.3,685.6 682.0,685.6 682.7,685.5 683.3,685.5 684.0,685.5 684.7,685.4 685.3,685.4 686.0,685.3 686.7,685.3 687.3,685.2 688.0,685.2 688.7,685.1 689.3,685.0 690.0,684.9 690.7,684.8 691.3,684.7 692.0,684.6 692.7,684.4 693.3,684.3 694.0,684.1 694.7,683.9 695.3,683.7 696.0,683.5 696.6,683.2 697.3,682.9 698.0,682.6 698.6,682.3 699.3,681.9 700.0,681.5 700.6,681.1 701.3,680.6 702.0,680.1 702.6,679.6 703.3,679.0 704.0,678.3 704.6,677.6 705.3,676.8 706.0,676.0 706.6,675.1 707.3,674.2 708.0,673.1 708.6,672.0 709.3,670.8 709.9,669.6 710.6,668.2 711.3,666.7 711.9,665.2 712.6,663.5 713.3,661.7 713.9,659.9 714.6,657.9 715.3,655.7 715.9,653.5 716.6,651.1 717.3,648.6 717.9,645.9 718.6,643.1 719.3,640.1 719.9,637.0 720.6,633.7 721.3,630.3 721.9,626.7 722.6,623.0 723.2,619.0 723.9,614.9 724.6,610.7 725.2,606.2 725.9,601.6 726.6,596.8 727.2,591.9 727.9,586.7 728.6,581.4 729.2,576.0 729.9,570.4 730.6,564.6 731.2,558.6 731.9,552.5 732.6,546.3 733.2,540.0 733.9,533.5 734.6,526.8 735.2,520.1 735.9,513.3 736.6,506.4 737.2,499.4 737.9,492.3 738.5,485.2 739.2,478.1 739.9,470.9 740.5,463.7 741.2,456.5 741.9,449.4 742.5,442.2 743.2,435.2 743.9,428.2 744.5,421.3 745.2,414.4 745.9,407.8 746.5,401.2 747.2,394.8 747.9,388.6 748.5,382.6 749.2,376.7 749.9,371.1 750.5,365.8 751.2,360.7 751.8,355.8 752.5,351.3 753.2,347.0 753.8,343.1 754.5,339.5 755.2,336.2 755.8,333.3 756.5,330.7 757.2,328.5 757.8,326.6 758.5,325.2 759.2,324.1 759.8,323.4 760.5,323.0 761.2,323.3 761.8,324.9 762.5,327.7 763.2,331.8 763.8,337.2 764.5,343.7 765.2,351.4 765.8,360.1 766.5,369.7 767.1,380.1 767.8,391.3 768.5,403.1 769.1,415.4 769.8,428.1 770.5,441.2 771.1,454.4 771.8,467.7 772.5,481.0 773.1,494.2 773.8,507.2 774.5,519.9 775.1,532.3 775.8,544.2 776.5,555.8 777.1,566.8 777.8,577.2 778.5,587.2 779.1,596.5 779.8,605.3 780.4,613.4 781.1,621.0 781.8,628.0 782.4,634.4 783.1,640.3 783.8,645.6 784.4,650.5 785.1,654.9 785.8,658.8 786.4,662.3 787.1,665.5 787.8,668.2 788.4,670.7 789.1,672.8 789.8,674.7 790.4,676.4 791.1,677.8 791.8,679.1 792.4,680.1 793.1,681.0 793.7,681.8 794.4,682.5 795.1,683.0 795.7,683.5 796.4,683.9 797.1,684.3 797.7,684.5 798.4,684.8 799.1,685.0 799.7,685.1 800.4,685.2 801.1,685.3 801.7,685.4 802.4,685.5 803.1,685.6 803.7,685.6 804.4,685.6 805.1,685.7 805.7,685.7 806.4,685.7 807.1,685.7 807.7,685.7 808.4,685.7 809.0,685.7 809.7,685.8 810.4,685.8 811.0,685.8 811.7,685.8 812.4,685.8 813.0,685.8 813.7,685.8 814.4,685.8 815.0,685.8 815.7,685.8 816.4,685.8 817.0,685.8 817.7,685.8 818.4,685.8 819.0,685.8 819.7,685.8 820.4,685.8 821.0,685.8 821.7,685.8 822.3,685.8 823.0,685.8 823.7,685.8 824.3,685.8 825.0,685.8 825.7,685.8 826.3,685.8 827.0,685.8 827.7,685.8 828.3,685.8 829.0,685.8 829.7,685.8 830.3,685.8 831.0,685.8 831.7,685.8 832.3,685.8 833.0,685.8 833.7,685.8 834.3,685.8 835.0,685.8 835.7,685.8 836.3,685.8 837.0,685.8 837.6,685.8 838.3,685.8 839.0,685.8 839.6,685.8 840.3,685.8 841.0,685.7 841.6,685.7 842.3,685.7 843.0,685.7 843.6,685.7 844.3,685.7 845.0,685.6 845.6,685.6 846.3,685.5 847.0,685.4 847.6,685.3 848.3,685.2 849.0,685.0 849.6,684.8 850.3,684.6 850.9,684.2 851.6,683.8 852.3,683.4 852.9,682.8 853.6,682.0 854.3,681.1 854.9,680.1 855.6,678.8 856.3,677.3 856.9,675.5 857.6,673.5 858.3,671.0 858.9,668.3 859.6,665.0 860.3,661.4 860.9,657.2 861.6,652.5 862.3,647.3 862.9,641.5 863.6,635.0 864.2,627.9 864.9,620.2 865.6,611.9 866.2,603.0 866.9,593.4 867.6,583.4 868.2,572.8 868.9,561.9 869.6,550.6 870.2,539.1 870.9,527.4 871.6,515.8 872.2,504.2 872.9,493.0 873.6,482.1 874.2,471.8 874.9,462.2 875.6,453.4 876.2,445.5 876.9,438.8 877.6,433.2 878.2,428.8 878.9,425.8 879.5,424.2 880.2,424.1 880.9,426.0 881.5,430.2 882.2,436.5 882.9,444.8 883.5,454.8 884.2,466.3 884.9,479.1 885.5,492.8 886.2,507.2 886.9,522.0 887.5,536.8 888.2,551.5 888.9,565.8 889.5,579.5 890.2,592.4 890.9,604.5 891.5,615.7 892.2,625.8 892.8,634.9 893.5,643.0 894.2,650.2 894.8,656.4 895.5,661.7 896.2,666.2 896.8,670.0 897.5,673.2 898.2,675.9 898.8,678.0 899.5,679.7 900.2,681.1 900.8,682.2 901.5,683.1 902.2,683.8 902.8,684.3 903.5,684.7 904.2,685.0 904.8,685.2 905.5,685.4 906.2,685.5 906.8,685.6 907.5,685.6 908.1,685.7 908.8,685.7 909.5,685.7 910.1,685.7 910.8,685.8 911.5,685.8 912.1,685.8 912.8,685.8 913.5,685.8 914.1,685.8 914.8,685.8 915.5,685.8 916.1,685.8 916.8,685.8 917.5,685.8 918.1,685.8 918.8,685.8 919.5,685.8 920.1,685.8 920.8,685.8 921.4,685.8 922.1,685.8 922.8,685.8 923.4,685.8 924.1,685.8 924.8,685.8 925.4,685.8 926.1,685.8 926.8,685.8 927.4,685.8 928.1,685.8 928.8,685.8 929.4,685.8 930.1,685.8 930.8,685.8 931.4,685.8 932.1,685.8 932.8,685.8 933.4,685.8 934.1,685.8 934.7,685.8 935.4,685.8 936.1,685.8 936.7,685.8 937.4,685.8 938.1,685.8 938.7,685.8 939.4,685.8 940.1,685.8 940.7,685.8 941.4,685.8 942.1,685.8 942.7,685.8 943.4,685.8 944.1,685.8 944.7,685.8 945.4,685.8 946.1,685.8 946.7,685.8 947.4,685.8 948.1,685.8 948.7,685.8 949.4,685.8 950.0,685.8 950.7,685.8 951.4,685.8 952.0,685.8 952.7,685.8 953.4,685.8 954.0,685.8 954.7,685.8 955.4,685.8 956.0,685.8 956.7,685.8 957.4,685.8 958.0,685.8 958.7,685.8 959.4,685.8 960.0,685.8 960.7,685.8 961.4,685.8 962.0,685.8 962.7,685.8 963.3,685.8 964.0,685.8 964.7,685.8 965.3,685.8 966.0,685.8 966.7,685.8 967.3,685.8 968.0,685.8 968.7,685.8 969.3,685.8 970.0,685.8 970.7,685.8 971.3,685.8 972.0,685.8 972.7,685.8 973.3,685.8 974.0,685.8 974.7,685.8 975.3,685.8" fill="none" stroke="#800080" stroke-width="3.2" stroke-linejoin="round"/>
<rect x="376" y="306" width="598" height="396.5" fill="none" stroke="#000" stroke-width="7"/>
<line x1="367" y1="688.5" x2="376" y2="688.5" stroke="#000" stroke-width="4"/>
<line x1="371" y1="634.0" x2="376" y2="634.0" stroke="#000" stroke-width="4"/>
<line x1="367" y1="579.4" x2="376" y2="579.4" stroke="#000" stroke-width="4"/>
<line x1="371" y1="524.9" x2="376" y2="524.9" stroke="#000" stroke-width="4"/>
<line x1="367" y1="470.3" x2="376" y2="470.3" stroke="#000" stroke-width="4"/>
<line x1="371" y1="415.8" x2="376" y2="415.8" stroke="#000" stroke-width="4"/>
<line x1="367" y1="361.2" x2="376" y2="361.2" stroke="#000" stroke-width="4"/>
<text x="359.0" y="696.8" text-anchor="end" font-size="34" letter-spacing="2" font-weight="bold" font-family="Liberation Serif, Times New Roman, serif">0</text>
<text x="359.0" y="587.7" text-anchor="end" font-size="34" letter-spacing="2" font-weight="bold" font-family="Liberation Serif, Times New Roman, serif">40</text>
<text x="359.0" y="478.6" text-anchor="end" font-size="34" letter-spacing="2" font-weight="bold" font-family="Liberation Serif, Times New Roman, serif">80</text>
<text x="359.0" y="369.5" text-anchor="end" font-size="34" letter-spacing="2" font-weight="bold" font-family="Liberation Serif, Times New Roman, serif">120</text>
<line x1="458.2" y1="702.5" x2="458.2" y2="713.5" stroke="#000" stroke-width="4"/>
<line x1="539.0" y1="702.5" x2="539.0" y2="709.5" stroke="#000" stroke-width="4"/>
<line x1="619.8" y1="702.5" x2="619.8" y2="713.5" stroke="#000" stroke-width="4"/>
<line x1="700.6" y1="702.5" x2="700.6" y2="709.5" stroke="#000" stroke-width="4"/>
<line x1="781.4" y1="702.5" x2="781.4" y2="713.5" stroke="#000" stroke-width="4"/>
<line x1="862.2" y1="702.5" x2="862.2" y2="709.5" stroke="#000" stroke-width="4"/>
<line x1="943.0" y1="702.5" x2="943.0" y2="713.5" stroke="#000" stroke-width="4"/>
<text x="456.7" y="742.8" text-anchor="middle" font-size="33" letter-spacing="3" font-weight="bold" font-family="Liberation Serif, Times New Roman, serif">-1.0</text>
<text x="618.3" y="742.8" text-anchor="middle" font-size="33" letter-spacing="3" font-weight="bold" font-family="Liberation Serif, Times New Roman, serif">-0.5</text>
<text x="779.9" y="742.8" text-anchor="middle" font-size="33" letter-spacing="3" font-weight="bold" font-family="Liberation Serif, Times New Roman, serif">0.0</text>
<text x="941.5" y="742.8" text-anchor="middle" font-size="33" letter-spacing="3" font-weight="bold" font-family="Liberation Serif, Times New Roman, serif">0.5</text>
<text x="629" y="795.5" font-size="49" font-style="italic" font-weight="bold" letter-spacing="2" font-family="Liberation Serif, Times New Roman, serif">E/V</text>
<text transform="translate(285,552) rotate(-90) scale(1.0,1)" font-size="48" font-weight="bold" font-style="italic" font-family="Liberation Serif, Times New Roman, serif">I</text>
<text transform="translate(285,531) rotate(-90) scale(1.0,1)" font-size="48" font-weight="bold"  font-family="Liberation Serif, Times New Roman, serif">/</text>
<text transform="translate(285,514.5) rotate(-90) scale(0.82,1)" font-size="48" font-weight="bold"  font-family="Liberation Serif, Times New Roman, serif">μ</text>
<text transform="translate(285,485.4) rotate(-90) scale(0.8,1)" font-size="48" font-weight="bold"  font-family="Liberation Serif, Times New Roman, serif">A</text>
<polyline points="1566.2,669.3 2031.4,512.2 2371.1,776.6" stroke="#222" stroke-width="2.4" fill="none"/>
<line x1="2031.4" y1="512.2" x2="2047.2" y2="25.0" stroke="#222" stroke-width="2.4" fill="none"/>
<polyline points="1527.0,147.8 2047.2,25.0 2433.9,235.7 2371.1,776.6" stroke="#222" stroke-width="2.4" fill="none"/>
<polygon points="1981.6,571.5 1957.5,551.6 1963.6,166.4 1989.9,183.2" fill="#ff40ff" stroke="#ff40ff" stroke-width="0.6"/>
<polygon points="1981.6,571.5 2013.5,560.4 2024.6,173.9 1989.9,183.2" fill="#ff00ff" stroke="#ff00ff" stroke-width="0.6"/>
<polygon points="1989.9,183.2 2024.6,173.9 1998.0,157.5 1963.6,166.4" fill="#c000c0" stroke="#c000c0" stroke-width="0.6"/>
<polygon points="1785.6,639.4 1762.9,617.9 1750.1,173.3 1775.0,191.0" fill="#ff40ff" stroke="#ff40ff" stroke-width="0.6"/>
<polygon points="1785.6,639.4 1820.1,627.4 1813.1,181.2 1775.0,191.0" fill="#ff00ff" stroke="#ff00ff" stroke-width="0.6"/>
<polygon points="1775.0,191.0 1813.1,181.2 1787.9,163.8 1750.1,173.3" fill="#c000c0" stroke="#c000c0" stroke-width="0.6"/>
<polygon points="1664.2,681.4 1642.4,658.9 1623.9,336.1 1647.1,356.0" fill="#ff40ff" stroke="#ff40ff" stroke-width="0.6"/>
<polygon points="1664.2,681.4 1700.4,668.9 1686.2,345.0 1647.1,356.0" fill="#ff00ff" stroke="#ff00ff" stroke-width="0.6"/>
<polygon points="1647.1,356.0 1686.2,345.0 1662.7,325.4 1623.9,336.1" fill="#c000c0" stroke="#c000c0" stroke-width="0.6"/>
<polygon points="2033.2,614.0 2007.9,593.1 2019.6,167.9 2047.5,185.2" fill="#40ff40" stroke="#40ff40" stroke-width="0.6"/>
<polygon points="2033.2,614.0 2065.5,602.4 2082.9,175.7 2047.5,185.2" fill="#00ff00" stroke="#00ff00" stroke-width="0.6"/>
<polygon points="2047.5,185.2 2082.9,175.7 2054.7,158.6 2019.6,167.9" fill="#00c000" stroke="#00c000" stroke-width="0.6"/>
<polygon points="1834.2,685.5 1810.4,662.8 1802.4,223.8 1828.7,242.7" fill="#40ff40" stroke="#40ff40" stroke-width="0.6"/>
<polygon points="1834.2,685.5 1869.3,672.9 1867.4,232.3 1828.7,242.7" fill="#00ff00" stroke="#00ff00" stroke-width="0.6"/>
<polygon points="1828.7,242.7 1867.4,232.3 1840.8,213.6 1802.4,223.8" fill="#00c000" stroke="#00c000" stroke-width="0.6"/>
<polygon points="1710.8,729.8 1687.9,706.0 1671.4,357.9 1696.0,378.7" fill="#40ff40" stroke="#40ff40" stroke-width="0.6"/>
<polygon points="1710.8,729.8 1747.6,716.6 1736.0,367.2 1696.0,378.7" fill="#00ff00" stroke="#00ff00" stroke-width="0.6"/>
<polygon points="1696.0,378.7 1736.0,367.2 1711.1,346.6 1671.4,357.9" fill="#00c000" stroke="#00c000" stroke-width="0.6"/>
<polygon points="2086.3,657.9 2059.7,635.9 2076.8,206.5 2106.3,224.8" fill="#40a0a0" stroke="#40a0a0" stroke-width="0.6"/>
<polygon points="2086.3,657.9 2119.0,645.7 2142.2,214.7 2106.3,224.8" fill="#008080" stroke="#008080" stroke-width="0.6"/>
<polygon points="2106.3,224.8 2142.2,214.7 2112.4,196.7 2076.8,206.5" fill="#006060" stroke="#006060" stroke-width="0.6"/>
<polygon points="1884.4,733.0 1859.3,709.2 1856.2,252.6 1884.1,272.5" fill="#40a0a0" stroke="#40a0a0" stroke-width="0.6"/>
<polygon points="1884.4,733.0 1920.1,719.8 1923.5,261.5 1884.1,272.5" fill="#008080" stroke="#008080" stroke-width="0.6"/>
<polygon points="1884.1,272.5 1923.5,261.5 1895.4,241.9 1856.2,252.6" fill="#006060" stroke="#006060" stroke-width="0.6"/>
<polygon points="1759.0,779.8 1734.8,754.7 1722.4,415.1 1748.4,437.3" fill="#40a0a0" stroke="#40a0a0" stroke-width="0.6"/>
<polygon points="1759.0,779.8 1796.4,765.8 1788.9,425.0 1748.4,437.3" fill="#008080" stroke="#008080" stroke-width="0.6"/>
<polygon points="1748.4,437.3 1788.9,425.0 1762.6,403.1 1722.4,415.1" fill="#006060" stroke="#006060" stroke-width="0.6"/>
<polygon points="2142.5,704.2 2114.5,681.2 2138.0,239.1 2169.2,258.4" fill="#ffff40" stroke="#ffff40" stroke-width="0.6"/>
<polygon points="2142.5,704.2 2175.7,691.4 2205.7,247.8 2169.2,258.4" fill="#ffff00" stroke="#ffff00" stroke-width="0.6"/>
<polygon points="2169.2,258.4 2205.7,247.8 2174.2,228.8 2138.0,239.1" fill="#c0c000" stroke="#c0c000" stroke-width="0.6"/>
<polygon points="1937.7,783.5 1911.2,758.4 1913.8,282.7 1943.4,303.7" fill="#ffff40" stroke="#ffff40" stroke-width="0.6"/>
<polygon points="1937.7,783.5 1973.9,769.5 1983.7,292.1 1943.4,303.7" fill="#ffff00" stroke="#ffff00" stroke-width="0.6"/>
<polygon points="1943.4,303.7 1983.7,292.1 1953.8,271.4 1913.8,282.7" fill="#c0c000" stroke="#c0c000" stroke-width="0.6"/>
<polygon points="1810.1,832.8 1784.7,806.4 1775.7,446.6 1803.3,470.0" fill="#ffff40" stroke="#ffff40" stroke-width="0.6"/>
<polygon points="1810.1,832.8 1848.2,818.1 1844.8,457.0 1803.3,470.0" fill="#ffff00" stroke="#ffff00" stroke-width="0.6"/>
<polygon points="1803.3,470.0 1844.8,457.0 1816.8,433.9 1775.7,446.6" fill="#c0c000" stroke="#c0c000" stroke-width="0.6"/>
<polygon points="2200.8,752.4 2171.3,728.1 2201.6,277.6 2234.7,298.0" fill="#ffa040" stroke="#ffa040" stroke-width="0.6"/>
<polygon points="2200.8,752.4 2234.4,738.8 2271.6,286.7 2234.7,298.0" fill="#ff8000" stroke="#ff8000" stroke-width="0.6"/>
<polygon points="2234.7,298.0 2271.6,286.7 2238.3,266.6 2201.6,277.6" fill="#c06000" stroke="#c06000" stroke-width="0.6"/>
<polygon points="1993.0,835.9 1965.1,809.5 1973.8,342.5 2005.1,364.9" fill="#ffa040" stroke="#ffa040" stroke-width="0.6"/>
<polygon points="1993.0,835.9 2029.8,821.2 2045.9,352.5 2005.1,364.9" fill="#ff8000" stroke="#ff8000" stroke-width="0.6"/>
<polygon points="2005.1,364.9 2045.9,352.5 2014.3,330.4 1973.8,342.5" fill="#c06000" stroke="#c06000" stroke-width="0.6"/>
<polygon points="1863.4,888.1 1836.5,860.2 1832.1,512.4 1861.3,537.4" fill="#ffa040" stroke="#ffa040" stroke-width="0.6"/>
<polygon points="1863.4,888.1 1902.1,872.5 1903.4,523.5 1861.3,537.4" fill="#ff8000" stroke="#ff8000" stroke-width="0.6"/>
<polygon points="1861.3,537.4 1903.4,523.5 1873.8,498.8 1832.1,512.4" fill="#c06000" stroke="#c06000" stroke-width="0.6"/>
<polygon points="2263.1,803.8 2232.0,778.2 2269.3,327.6 2304.2,349.3" fill="#ff4040" stroke="#ff4040" stroke-width="0.6"/>
<polygon points="2263.1,803.8 2297.1,789.5 2341.7,337.3 2304.2,349.3" fill="#ff0000" stroke="#ff0000" stroke-width="0.6"/>
<polygon points="2304.2,349.3 2341.7,337.3 2306.4,315.9 2269.3,327.6" fill="#c00000" stroke="#c00000" stroke-width="0.6"/>
<polygon points="2052.3,892.1 2022.8,864.1 2038.5,389.2 2071.8,413.1" fill="#ff4040" stroke="#ff4040" stroke-width="0.6"/>
<polygon points="2052.3,892.1 2089.6,876.5 2113.3,399.8 2071.8,413.1" fill="#ff0000" stroke="#ff0000" stroke-width="0.6"/>
<polygon points="2071.8,413.1 2113.3,399.8 2079.6,376.3 2038.5,389.2" fill="#c00000" stroke="#c00000" stroke-width="0.6"/>
<polygon points="1920.6,947.4 1892.1,917.8 1892.4,563.4 1923.5,590.1" fill="#ff4040" stroke="#ff4040" stroke-width="0.6"/>
<polygon points="1920.6,947.4 1960.0,930.8 1966.3,575.2 1923.5,590.1" fill="#ff0000" stroke="#ff0000" stroke-width="0.6"/>
<polygon points="1923.5,590.1 1966.3,575.2 1934.9,549.0 1892.4,563.4" fill="#c00000" stroke="#c00000" stroke-width="0.6"/>
<polyline points="1527.0,147.8 1566.2,669.3 1862.1,992.1 2371.1,776.6" stroke="#222" stroke-width="2.4" fill="none"/>
<line x1="1566.2" y1="669.3" x2="1532.8" y2="678.6" stroke="#222" stroke-width="2.4" fill="none"/>
<line x1="1563.9" y1="638.1" x2="1545.5" y2="643.2" stroke="#222" stroke-width="2.4" fill="none"/>
<line x1="1561.5" y1="606.4" x2="1528.1" y2="615.7" stroke="#222" stroke-width="2.4" fill="none"/>
<line x1="1559.1" y1="574.3" x2="1540.7" y2="579.4" stroke="#222" stroke-width="2.4" fill="none"/>
<line x1="1556.6" y1="541.7" x2="1523.2" y2="551.0" stroke="#222" stroke-width="2.4" fill="none"/>
<line x1="1554.1" y1="508.5" x2="1535.7" y2="513.7" stroke="#222" stroke-width="2.4" fill="none"/>
<line x1="1551.6" y1="474.9" x2="1518.2" y2="484.2" stroke="#222" stroke-width="2.4" fill="none"/>
<line x1="1549.0" y1="440.8" x2="1530.6" y2="445.9" stroke="#222" stroke-width="2.4" fill="none"/>
<line x1="1546.4" y1="406.2" x2="1513.0" y2="415.5" stroke="#222" stroke-width="2.4" fill="none"/>
<line x1="1543.8" y1="371.0" x2="1525.4" y2="376.1" stroke="#222" stroke-width="2.4" fill="none"/>
<line x1="1541.1" y1="335.2" x2="1507.7" y2="344.5" stroke="#222" stroke-width="2.4" fill="none"/>
<line x1="1538.3" y1="298.9" x2="1520.0" y2="304.0" stroke="#222" stroke-width="2.4" fill="none"/>
<line x1="1535.6" y1="262.0" x2="1502.2" y2="271.3" stroke="#222" stroke-width="2.4" fill="none"/>
<line x1="1532.7" y1="224.6" x2="1514.4" y2="229.7" stroke="#222" stroke-width="2.4" fill="none"/>
<line x1="1529.9" y1="186.5" x2="1496.5" y2="195.8" stroke="#222" stroke-width="2.4" fill="none"/>
<line x1="1527.0" y1="147.8" x2="1508.6" y2="152.9" stroke="#222" stroke-width="2.4" fill="none"/>
<line x1="1592.6" y1="721.9" x2="1622.1" y2="711.6" stroke="#222" stroke-width="2.4" fill="none"/>
<line x1="1637.6" y1="771.5" x2="1667.6" y2="760.7" stroke="#222" stroke-width="2.4" fill="none"/>
<line x1="1684.9" y1="823.9" x2="1715.5" y2="812.4" stroke="#222" stroke-width="2.4" fill="none"/>
<line x1="1735.0" y1="879.2" x2="1766.1" y2="867.1" stroke="#222" stroke-width="2.4" fill="none"/>
<line x1="1787.9" y1="937.7" x2="1819.6" y2="924.9" stroke="#222" stroke-width="2.4" fill="none"/>
<line x1="1844.0" y1="999.7" x2="1862.1" y2="992.1" stroke="#222" stroke-width="2.4" fill="none"/>
<text transform="matrix(1,-0.25,0,1,1330.3,255.6)" x="0 32 64" y="0" font-size="61" font-weight="bold" font-family="Liberation Serif, Times New Roman, serif">140</text>
<text transform="matrix(1,-0.25,0,1,1337.9,331.4)" x="0 32 64" y="0" font-size="61" font-weight="bold" font-family="Liberation Serif, Times New Roman, serif">120</text>
<text transform="matrix(1,-0.25,0,1,1345.6,403.2)" x="0 32 64" y="0" font-size="61" font-weight="bold" font-family="Liberation Serif, Times New Roman, serif">100</text>
<text transform="matrix(1,-0.25,0,1,1384.3,468.9)" x="0 32" y="0" font-size="61" font-weight="bold" font-family="Liberation Serif, Times New Roman, serif">80</text>
<text transform="matrix(1,-0.25,0,1,1390.9,535.7)" x="0 32" y="0" font-size="61" font-weight="bold" font-family="Liberation Serif, Times New Roman, serif">60</text>
<text transform="matrix(1,-0.25,0,1,1397.9,602.6)" x="0 32" y="0" font-size="61" font-weight="bold" font-family="Liberation Serif, Times New Roman, serif">40</text>
<text transform="matrix(1,-0.25,0,1,1404.0,667.9)" x="0 32" y="0" font-size="61" font-weight="bold" font-family="Liberation Serif, Times New Roman, serif">20</text>
<text transform="matrix(1,-0.25,0,1,1442.1,722.2)" x="0" y="0" font-size="61" font-weight="bold" font-family="Liberation Serif, Times New Roman, serif">0</text>
<text x="1571.5" y="232.5" font-size="104" font-weight="bold" font-family="Liberation Serif, Times New Roman, serif">B</text>
<text transform="matrix(-0.1300,-1.0000,1.0000,-0.0650,1340.4,574.3)" font-size="90" font-weight="bold"  font-family="Liberation Serif, Times New Roman, serif">I</text>
<text transform="matrix(-0.1300,-1.0000,1.0000,-0.2000,1366.0,527.5)" font-size="48" font-weight="bold"  font-family="Liberation Serif, Times New Roman, serif">p</text>
<text transform="matrix(-0.1300,-1.0000,1.0000,-0.3700,1334.0,505.0)" font-size="88" font-weight="bold"  font-family="Liberation Serif, Times New Roman, serif">/</text>
<text transform="matrix(-0.1235,-0.9500,1.0000,-0.2700,1328.0,485.5)" font-size="86" font-weight="bold"  font-family="Liberation Serif, Times New Roman, serif">μ</text>
<text transform="matrix(-0.1118,-0.8600,1.0000,-0.3400,1319.0,435.0)" font-size="86" font-weight="bold"  font-family="Liberation Serif, Times New Roman, serif">A</text>
<text x="1550" y="750.9" text-anchor="middle" font-size="71" font-weight="bold" font-family="Liberation Serif, Times New Roman, serif">6</text>
<text x="1594.5" y="808.6" text-anchor="middle" font-size="71" font-weight="bold" font-family="Liberation Serif, Times New Roman, serif">5</text>
<text x="1630.4" y="853.2" text-anchor="middle" font-size="71" font-weight="bold" font-family="Liberation Serif, Times New Roman, serif">4</text>
<text x="1680" y="907" text-anchor="middle" font-size="71" font-weight="bold" font-family="Liberation Serif, Times New Roman, serif">3</text>
<text x="1736" y="973" text-anchor="middle" font-size="71" font-weight="bold" font-family="Liberation Serif, Times New Roman, serif">2</text>
<text x="1793" y="1018" text-anchor="middle" font-size="71" font-weight="bold" font-family="Liberation Serif, Times New Roman, serif">1</text>
<text transform="translate(1493,829) rotate(48)" font-size="91" font-weight="bold" font-family="Liberation Serif, Times New Roman, serif">Days</text>
<text transform="translate(1936,1060) rotate(-22)" font-size="64" font-weight="bold" font-family="Liberation Serif, Times New Roman, serif">Zn<tspan font-size="38" font-weight="bold" dx="6" dy="-36">2+</tspan></text>
<text transform="translate(2106,994) rotate(-22)" font-size="64" font-weight="bold" font-family="Liberation Serif, Times New Roman, serif">Cd<tspan font-size="38" font-weight="bold" dx="9" dy="-36">2+</tspan></text>
<text transform="translate(2292,898) rotate(-22)" font-size="64" font-weight="bold" font-family="Liberation Serif, Times New Roman, serif">Hg<tspan font-size="38" font-weight="bold" dx="6" dy="-36">2+</tspan></text>
</svg>
</div></body></html>
